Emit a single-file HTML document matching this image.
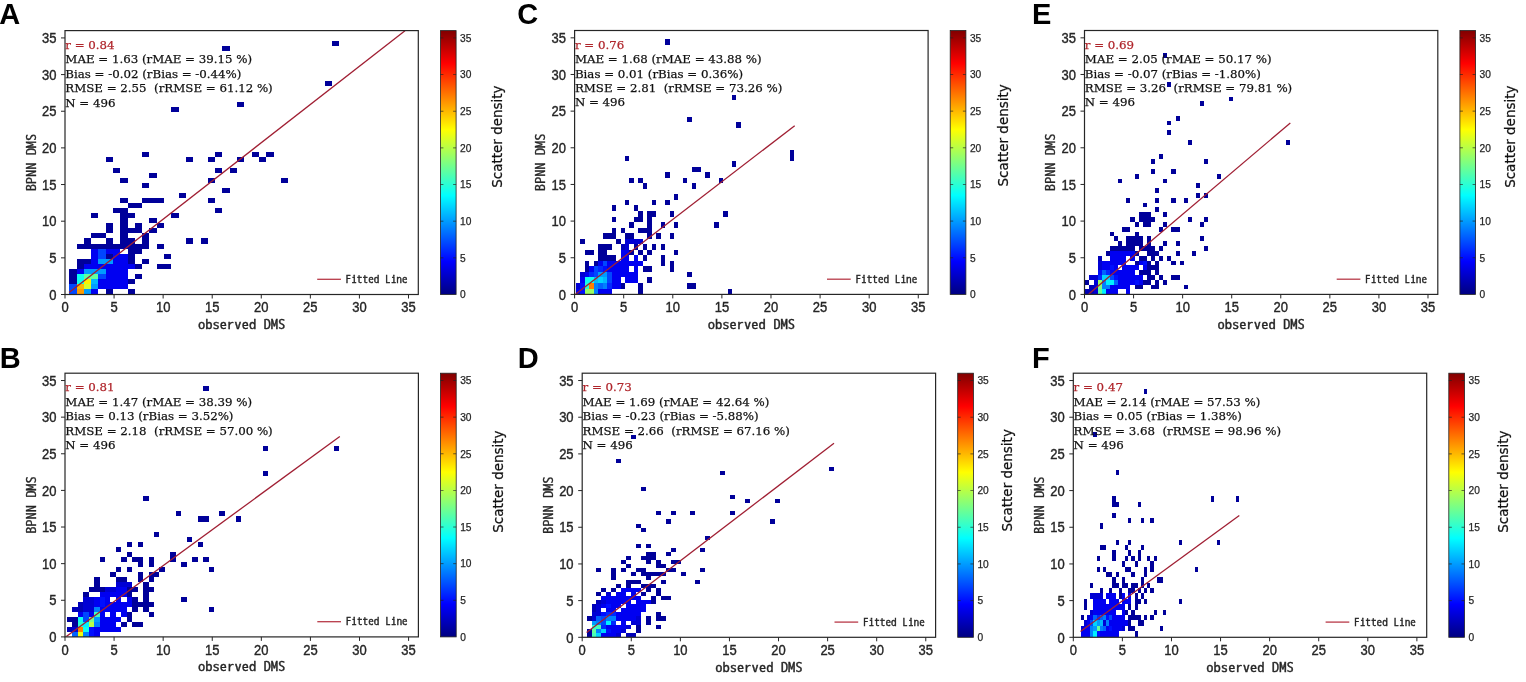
<!DOCTYPE html><html><head><meta charset="utf-8"><title>Scatter density plots</title>
<style>html,body{margin:0;padding:0;background:#fff;}svg{display:block;} .tk{stroke:#262626;stroke-width:0.35px;} .st{stroke:currentColor;stroke-width:0.25px;} .lb{stroke:#111;stroke-width:0.25px;} .cb{stroke:#262626;stroke-width:0.25px;} .ax{stroke:#262626;stroke-width:0.35px;}</style></head><body>
<svg width="1526" height="682" viewBox="0 0 1526 682">
<defs><linearGradient id="jet" x1="0" y1="1" x2="0" y2="0">
<stop offset="0" stop-color="#000080"/>
<stop offset="0.125" stop-color="#0000ff"/>
<stop offset="0.375" stop-color="#00ffff"/>
<stop offset="0.625" stop-color="#ffff00"/>
<stop offset="0.875" stop-color="#ff0000"/>
<stop offset="1.0" stop-color="#800000"/>
</linearGradient></defs>
<rect width="1526" height="682" fill="#fff"/>
<clipPath id="clipA"><rect x="65.0" y="30.6" width="353.3" height="263.9"/></clipPath>
<g clip-path="url(#clipA)" shape-rendering="crispEdges">
<rect x="69.20" y="289.13" width="7.30" height="5.07" fill="#0047ff"/>
<rect x="69.20" y="284.07" width="7.30" height="5.07" fill="#0047ff"/>
<rect x="69.20" y="279.00" width="7.30" height="5.07" fill="#00009a"/>
<rect x="69.20" y="273.93" width="7.30" height="5.07" fill="#00009a"/>
<rect x="69.20" y="268.87" width="7.30" height="5.07" fill="#00009a"/>
<rect x="76.50" y="289.13" width="7.30" height="5.07" fill="#ff9c00"/>
<rect x="76.50" y="284.07" width="7.30" height="5.07" fill="#ffb800"/>
<rect x="76.50" y="279.00" width="7.30" height="5.07" fill="#0efff1"/>
<rect x="76.50" y="273.93" width="7.30" height="5.07" fill="#0efff1"/>
<rect x="76.50" y="268.87" width="7.30" height="5.07" fill="#0000f1"/>
<rect x="76.50" y="263.80" width="7.30" height="5.07" fill="#00009a"/>
<rect x="76.50" y="258.73" width="7.30" height="5.07" fill="#00009a"/>
<rect x="76.50" y="243.53" width="7.30" height="5.07" fill="#00009a"/>
<rect x="83.79" y="289.13" width="7.30" height="5.07" fill="#009cff"/>
<rect x="83.79" y="284.07" width="7.30" height="5.07" fill="#d5ff2a"/>
<rect x="83.79" y="279.00" width="7.30" height="5.07" fill="#fff100"/>
<rect x="83.79" y="273.93" width="7.30" height="5.07" fill="#63ff9c"/>
<rect x="83.79" y="268.87" width="7.30" height="5.07" fill="#009cff"/>
<rect x="83.79" y="263.80" width="7.30" height="5.07" fill="#0000f1"/>
<rect x="83.79" y="258.73" width="7.30" height="5.07" fill="#00009a"/>
<rect x="83.79" y="243.53" width="7.30" height="5.07" fill="#00009a"/>
<rect x="83.79" y="238.46" width="7.30" height="5.07" fill="#00009a"/>
<rect x="91.09" y="289.13" width="7.30" height="5.07" fill="#0000f1"/>
<rect x="91.09" y="284.07" width="7.30" height="5.07" fill="#009cff"/>
<rect x="91.09" y="279.00" width="7.30" height="5.07" fill="#00b8ff"/>
<rect x="91.09" y="273.93" width="7.30" height="5.07" fill="#63ff9c"/>
<rect x="91.09" y="268.87" width="7.30" height="5.07" fill="#009cff"/>
<rect x="91.09" y="263.80" width="7.30" height="5.07" fill="#0000f1"/>
<rect x="91.09" y="258.73" width="7.30" height="5.07" fill="#0000f1"/>
<rect x="91.09" y="253.66" width="7.30" height="5.07" fill="#0000f1"/>
<rect x="91.09" y="248.60" width="7.30" height="5.07" fill="#0000f1"/>
<rect x="91.09" y="243.53" width="7.30" height="5.07" fill="#00009a"/>
<rect x="91.09" y="233.40" width="7.30" height="5.07" fill="#00009a"/>
<rect x="91.09" y="213.13" width="7.30" height="5.07" fill="#00009a"/>
<rect x="98.39" y="284.07" width="7.30" height="5.07" fill="#0000f1"/>
<rect x="98.39" y="279.00" width="7.30" height="5.07" fill="#0000f1"/>
<rect x="98.39" y="273.93" width="7.30" height="5.07" fill="#0047ff"/>
<rect x="98.39" y="268.87" width="7.30" height="5.07" fill="#009cff"/>
<rect x="98.39" y="263.80" width="7.30" height="5.07" fill="#0000f1"/>
<rect x="98.39" y="258.73" width="7.30" height="5.07" fill="#009cff"/>
<rect x="98.39" y="253.66" width="7.30" height="5.07" fill="#0047ff"/>
<rect x="98.39" y="248.60" width="7.30" height="5.07" fill="#0047ff"/>
<rect x="98.39" y="243.53" width="7.30" height="5.07" fill="#00009a"/>
<rect x="98.39" y="233.40" width="7.30" height="5.07" fill="#00009a"/>
<rect x="105.69" y="289.13" width="7.30" height="5.07" fill="#00009a"/>
<rect x="105.69" y="284.07" width="7.30" height="5.07" fill="#0000f1"/>
<rect x="105.69" y="279.00" width="7.30" height="5.07" fill="#0000f1"/>
<rect x="105.69" y="273.93" width="7.30" height="5.07" fill="#0000f1"/>
<rect x="105.69" y="268.87" width="7.30" height="5.07" fill="#0000f1"/>
<rect x="105.69" y="263.80" width="7.30" height="5.07" fill="#0000f1"/>
<rect x="105.69" y="258.73" width="7.30" height="5.07" fill="#009cff"/>
<rect x="105.69" y="253.66" width="7.30" height="5.07" fill="#00009a"/>
<rect x="105.69" y="248.60" width="7.30" height="5.07" fill="#0000f1"/>
<rect x="105.69" y="243.53" width="7.30" height="5.07" fill="#00009a"/>
<rect x="105.69" y="238.46" width="7.30" height="5.07" fill="#00009a"/>
<rect x="105.69" y="228.33" width="7.30" height="5.07" fill="#00009a"/>
<rect x="105.69" y="223.26" width="7.30" height="5.07" fill="#00009a"/>
<rect x="105.69" y="157.39" width="7.30" height="5.07" fill="#00009a"/>
<rect x="112.98" y="284.07" width="7.30" height="5.07" fill="#0000f1"/>
<rect x="112.98" y="279.00" width="7.30" height="5.07" fill="#0000f1"/>
<rect x="112.98" y="273.93" width="7.30" height="5.07" fill="#0000f1"/>
<rect x="112.98" y="268.87" width="7.30" height="5.07" fill="#0000f1"/>
<rect x="112.98" y="263.80" width="7.30" height="5.07" fill="#0000f1"/>
<rect x="112.98" y="258.73" width="7.30" height="5.07" fill="#0000f1"/>
<rect x="112.98" y="253.66" width="7.30" height="5.07" fill="#0000f1"/>
<rect x="112.98" y="248.60" width="7.30" height="5.07" fill="#0000f1"/>
<rect x="112.98" y="243.53" width="7.30" height="5.07" fill="#00009a"/>
<rect x="112.98" y="208.06" width="7.30" height="5.07" fill="#00009a"/>
<rect x="112.98" y="167.52" width="7.30" height="5.07" fill="#00009a"/>
<rect x="120.28" y="284.07" width="7.30" height="5.07" fill="#0000f1"/>
<rect x="120.28" y="279.00" width="7.30" height="5.07" fill="#0000f1"/>
<rect x="120.28" y="273.93" width="7.30" height="5.07" fill="#0000f1"/>
<rect x="120.28" y="268.87" width="7.30" height="5.07" fill="#0000f1"/>
<rect x="120.28" y="263.80" width="7.30" height="5.07" fill="#0000f1"/>
<rect x="120.28" y="258.73" width="7.30" height="5.07" fill="#0000f1"/>
<rect x="120.28" y="253.66" width="7.30" height="5.07" fill="#0000f1"/>
<rect x="120.28" y="243.53" width="7.30" height="5.07" fill="#00009a"/>
<rect x="120.28" y="238.46" width="7.30" height="5.07" fill="#00009a"/>
<rect x="120.28" y="233.40" width="7.30" height="5.07" fill="#00009a"/>
<rect x="120.28" y="228.33" width="7.30" height="5.07" fill="#00009a"/>
<rect x="120.28" y="223.26" width="7.30" height="5.07" fill="#00009a"/>
<rect x="120.28" y="218.19" width="7.30" height="5.07" fill="#00009a"/>
<rect x="120.28" y="213.13" width="7.30" height="5.07" fill="#00009a"/>
<rect x="120.28" y="208.06" width="7.30" height="5.07" fill="#00009a"/>
<rect x="120.28" y="197.93" width="7.30" height="5.07" fill="#00009a"/>
<rect x="120.28" y="177.66" width="7.30" height="5.07" fill="#00009a"/>
<rect x="127.58" y="289.13" width="7.30" height="5.07" fill="#00009a"/>
<rect x="127.58" y="279.00" width="7.30" height="5.07" fill="#00009a"/>
<rect x="127.58" y="263.80" width="7.30" height="5.07" fill="#0000f1"/>
<rect x="127.58" y="258.73" width="7.30" height="5.07" fill="#00009a"/>
<rect x="127.58" y="253.66" width="7.30" height="5.07" fill="#00009a"/>
<rect x="127.58" y="248.60" width="7.30" height="5.07" fill="#00009a"/>
<rect x="127.58" y="243.53" width="7.30" height="5.07" fill="#00009a"/>
<rect x="127.58" y="238.46" width="7.30" height="5.07" fill="#00009a"/>
<rect x="127.58" y="228.33" width="7.30" height="5.07" fill="#00009a"/>
<rect x="127.58" y="213.13" width="7.30" height="5.07" fill="#00009a"/>
<rect x="127.58" y="202.99" width="7.30" height="5.07" fill="#00009a"/>
<rect x="134.87" y="273.93" width="7.30" height="5.07" fill="#00009a"/>
<rect x="134.87" y="263.80" width="7.30" height="5.07" fill="#00009a"/>
<rect x="134.87" y="248.60" width="7.30" height="5.07" fill="#00009a"/>
<rect x="134.87" y="243.53" width="7.30" height="5.07" fill="#00009a"/>
<rect x="134.87" y="228.33" width="7.30" height="5.07" fill="#00009a"/>
<rect x="134.87" y="223.26" width="7.30" height="5.07" fill="#00009a"/>
<rect x="134.87" y="202.99" width="7.30" height="5.07" fill="#00009a"/>
<rect x="142.17" y="258.73" width="7.30" height="5.07" fill="#00009a"/>
<rect x="142.17" y="243.53" width="7.30" height="5.07" fill="#00009a"/>
<rect x="142.17" y="238.46" width="7.30" height="5.07" fill="#00009a"/>
<rect x="142.17" y="233.40" width="7.30" height="5.07" fill="#00009a"/>
<rect x="142.17" y="197.93" width="7.30" height="5.07" fill="#00009a"/>
<rect x="142.17" y="182.73" width="7.30" height="5.07" fill="#00009a"/>
<rect x="142.17" y="152.32" width="7.30" height="5.07" fill="#00009a"/>
<rect x="149.47" y="228.33" width="7.30" height="5.07" fill="#00009a"/>
<rect x="149.47" y="218.19" width="7.30" height="5.07" fill="#00009a"/>
<rect x="149.47" y="197.93" width="7.30" height="5.07" fill="#00009a"/>
<rect x="149.47" y="172.59" width="7.30" height="5.07" fill="#00009a"/>
<rect x="156.76" y="263.80" width="7.30" height="5.07" fill="#00009a"/>
<rect x="156.76" y="243.53" width="7.30" height="5.07" fill="#00009a"/>
<rect x="156.76" y="223.26" width="7.30" height="5.07" fill="#00009a"/>
<rect x="156.76" y="197.93" width="7.30" height="5.07" fill="#00009a"/>
<rect x="164.06" y="263.80" width="7.30" height="5.07" fill="#00009a"/>
<rect x="164.06" y="253.66" width="7.30" height="5.07" fill="#00009a"/>
<rect x="171.36" y="213.13" width="7.30" height="5.07" fill="#00009a"/>
<rect x="171.36" y="106.72" width="7.30" height="5.07" fill="#00009a"/>
<rect x="178.66" y="192.86" width="7.30" height="5.07" fill="#00009a"/>
<rect x="185.95" y="238.46" width="7.30" height="5.07" fill="#00009a"/>
<rect x="185.95" y="157.39" width="7.30" height="5.07" fill="#00009a"/>
<rect x="200.55" y="238.46" width="7.30" height="5.07" fill="#00009a"/>
<rect x="207.84" y="197.93" width="7.30" height="5.07" fill="#00009a"/>
<rect x="207.84" y="177.66" width="7.30" height="5.07" fill="#00009a"/>
<rect x="207.84" y="157.39" width="7.30" height="5.07" fill="#00009a"/>
<rect x="215.14" y="208.06" width="7.30" height="5.07" fill="#00009a"/>
<rect x="215.14" y="167.52" width="7.30" height="5.07" fill="#00009a"/>
<rect x="215.14" y="152.32" width="7.30" height="5.07" fill="#00009a"/>
<rect x="222.44" y="187.79" width="7.30" height="5.07" fill="#00009a"/>
<rect x="222.44" y="45.92" width="7.30" height="5.07" fill="#00009a"/>
<rect x="229.73" y="167.52" width="7.30" height="5.07" fill="#00009a"/>
<rect x="237.03" y="157.39" width="7.30" height="5.07" fill="#00009a"/>
<rect x="237.03" y="101.65" width="7.30" height="5.07" fill="#00009a"/>
<rect x="251.62" y="152.32" width="7.30" height="5.07" fill="#00009a"/>
<rect x="258.92" y="157.39" width="7.30" height="5.07" fill="#00009a"/>
<rect x="266.22" y="152.32" width="7.30" height="5.07" fill="#00009a"/>
<rect x="280.81" y="177.66" width="7.30" height="5.07" fill="#00009a"/>
<rect x="324.59" y="81.39" width="7.30" height="5.07" fill="#00009a"/>
<rect x="331.89" y="40.85" width="7.30" height="5.07" fill="#00009a"/>
</g>
<line x1="69.06" y1="292.5" x2="405.0" y2="30.7" stroke="#a01f33" stroke-width="1.3" clip-path="url(#clipA)"/>
<rect x="65.0" y="30.6" width="353.3" height="263.9" fill="none" stroke="#262626" stroke-width="1.2"/>
<line x1="65.00" y1="294.5" x2="65.00" y2="298.5" stroke="#262626" stroke-width="1"/>
<line x1="61.0" y1="294.50" x2="65.0" y2="294.50" stroke="#262626" stroke-width="1"/>
<text transform="translate(65.00,312.10) scale(1,1.12)" class="tk" text-anchor="middle" style="font-family:'Liberation Sans',Arial,sans-serif;font-size:13px" fill="#262626">0</text>
<text transform="translate(56.40,299.70) scale(1,1.12)" class="tk" text-anchor="end" style="font-family:'Liberation Sans',Arial,sans-serif;font-size:13px" fill="#262626">0</text>
<line x1="114.07" y1="294.5" x2="114.07" y2="298.5" stroke="#262626" stroke-width="1"/>
<line x1="61.0" y1="257.85" x2="65.0" y2="257.85" stroke="#262626" stroke-width="1"/>
<text transform="translate(114.07,312.10) scale(1,1.12)" class="tk" text-anchor="middle" style="font-family:'Liberation Sans',Arial,sans-serif;font-size:13px" fill="#262626">5</text>
<text transform="translate(56.40,263.05) scale(1,1.12)" class="tk" text-anchor="end" style="font-family:'Liberation Sans',Arial,sans-serif;font-size:13px" fill="#262626">5</text>
<line x1="163.14" y1="294.5" x2="163.14" y2="298.5" stroke="#262626" stroke-width="1"/>
<line x1="61.0" y1="221.19" x2="65.0" y2="221.19" stroke="#262626" stroke-width="1"/>
<text transform="translate(163.14,312.10) scale(1,1.12)" class="tk" text-anchor="middle" style="font-family:'Liberation Sans',Arial,sans-serif;font-size:13px" fill="#262626">10</text>
<text transform="translate(56.40,226.39) scale(1,1.12)" class="tk" text-anchor="end" style="font-family:'Liberation Sans',Arial,sans-serif;font-size:13px" fill="#262626">10</text>
<line x1="212.21" y1="294.5" x2="212.21" y2="298.5" stroke="#262626" stroke-width="1"/>
<line x1="61.0" y1="184.54" x2="65.0" y2="184.54" stroke="#262626" stroke-width="1"/>
<text transform="translate(212.21,312.10) scale(1,1.12)" class="tk" text-anchor="middle" style="font-family:'Liberation Sans',Arial,sans-serif;font-size:13px" fill="#262626">15</text>
<text transform="translate(56.40,189.74) scale(1,1.12)" class="tk" text-anchor="end" style="font-family:'Liberation Sans',Arial,sans-serif;font-size:13px" fill="#262626">15</text>
<line x1="261.28" y1="294.5" x2="261.28" y2="298.5" stroke="#262626" stroke-width="1"/>
<line x1="61.0" y1="147.89" x2="65.0" y2="147.89" stroke="#262626" stroke-width="1"/>
<text transform="translate(261.28,312.10) scale(1,1.12)" class="tk" text-anchor="middle" style="font-family:'Liberation Sans',Arial,sans-serif;font-size:13px" fill="#262626">20</text>
<text transform="translate(56.40,153.09) scale(1,1.12)" class="tk" text-anchor="end" style="font-family:'Liberation Sans',Arial,sans-serif;font-size:13px" fill="#262626">20</text>
<line x1="310.35" y1="294.5" x2="310.35" y2="298.5" stroke="#262626" stroke-width="1"/>
<line x1="61.0" y1="111.24" x2="65.0" y2="111.24" stroke="#262626" stroke-width="1"/>
<text transform="translate(310.35,312.10) scale(1,1.12)" class="tk" text-anchor="middle" style="font-family:'Liberation Sans',Arial,sans-serif;font-size:13px" fill="#262626">25</text>
<text transform="translate(56.40,116.44) scale(1,1.12)" class="tk" text-anchor="end" style="font-family:'Liberation Sans',Arial,sans-serif;font-size:13px" fill="#262626">25</text>
<line x1="359.42" y1="294.5" x2="359.42" y2="298.5" stroke="#262626" stroke-width="1"/>
<line x1="61.0" y1="74.58" x2="65.0" y2="74.58" stroke="#262626" stroke-width="1"/>
<text transform="translate(359.42,312.10) scale(1,1.12)" class="tk" text-anchor="middle" style="font-family:'Liberation Sans',Arial,sans-serif;font-size:13px" fill="#262626">30</text>
<text transform="translate(56.40,79.78) scale(1,1.12)" class="tk" text-anchor="end" style="font-family:'Liberation Sans',Arial,sans-serif;font-size:13px" fill="#262626">30</text>
<line x1="408.49" y1="294.5" x2="408.49" y2="298.5" stroke="#262626" stroke-width="1"/>
<line x1="61.0" y1="37.93" x2="65.0" y2="37.93" stroke="#262626" stroke-width="1"/>
<text transform="translate(408.49,312.10) scale(1,1.12)" class="tk" text-anchor="middle" style="font-family:'Liberation Sans',Arial,sans-serif;font-size:13px" fill="#262626">35</text>
<text transform="translate(56.40,43.13) scale(1,1.12)" class="tk" text-anchor="end" style="font-family:'Liberation Sans',Arial,sans-serif;font-size:13px" fill="#262626">35</text>
<text x="241.65" y="328.80" class="ax" text-anchor="middle" style="font-family:'WenQuanYi Zen Hei Mono','WenQuanYi Zen Hei','DejaVu Sans Mono',monospace;font-size:12px" fill="#262626" textLength="87.4" lengthAdjust="spacingAndGlyphs">observed DMS</text>
<text transform="translate(35.80,162.55) rotate(-90)" x="0" y="0" class="ax" text-anchor="middle" style="font-family:'WenQuanYi Zen Hei Mono','WenQuanYi Zen Hei','DejaVu Sans Mono',monospace;font-size:12px" fill="#262626" textLength="57.6" lengthAdjust="spacingAndGlyphs">BPNN DMS</text>
<line x1="317.20" y1="279.30" x2="340.90" y2="279.30" stroke="#b83a48" stroke-width="1.3"/>
<text x="345.60" y="282.90" class="ax" style="font-family:'WenQuanYi Zen Hei Mono','WenQuanYi Zen Hei','DejaVu Sans Mono',monospace;font-size:10.6px" fill="#262626" textLength="62" lengthAdjust="spacingAndGlyphs">Fitted Line</text>
<text transform="translate(65.30,48.70) scale(1,1.0)" class="st" style="color:#b0262c;font-family:'DejaVu Serif',serif;font-size:11.8px;white-space:pre" xml:space="preserve" fill="#b0262c">r = 0.84</text>
<text transform="translate(65.30,63.15) scale(1,1.0)" class="st" style="color:#111;font-family:'DejaVu Serif',serif;font-size:11.8px;white-space:pre" xml:space="preserve" fill="#111">MAE = 1.63 (rMAE = 39.15 %)</text>
<text transform="translate(65.30,77.60) scale(1,1.0)" class="st" style="color:#111;font-family:'DejaVu Serif',serif;font-size:11.8px;white-space:pre" xml:space="preserve" fill="#111">Bias = -0.02 (rBias = -0.44%)</text>
<text transform="translate(65.30,92.05) scale(1,1.0)" class="st" style="color:#111;font-family:'DejaVu Serif',serif;font-size:11.8px;white-space:pre" xml:space="preserve" fill="#111">RMSE = 2.55  (rRMSE = 61.12 %)</text>
<text transform="translate(65.30,106.50) scale(1,1.0)" class="st" style="color:#111;font-family:'DejaVu Serif',serif;font-size:11.8px;white-space:pre" xml:space="preserve" fill="#111">N = 496</text>
<rect x="440.40" y="30.6" width="15.7" height="263.9" fill="url(#jet)" stroke="#222" stroke-width="0.8"/>
<text x="460.10" y="298.30" class="cb" style="font-family:'Liberation Sans',Arial,sans-serif;font-size:10.2px" fill="#262626">0</text>
<line x1="440.40" y1="257.85" x2="443.40" y2="257.85" stroke="#222" stroke-width="0.8" opacity="0.85"/>
<line x1="453.10" y1="257.85" x2="456.10" y2="257.85" stroke="#222" stroke-width="0.8" opacity="0.85"/>
<text x="460.10" y="261.65" class="cb" style="font-family:'Liberation Sans',Arial,sans-serif;font-size:10.2px" fill="#262626">5</text>
<line x1="440.40" y1="221.19" x2="443.40" y2="221.19" stroke="#222" stroke-width="0.8" opacity="0.85"/>
<line x1="453.10" y1="221.19" x2="456.10" y2="221.19" stroke="#222" stroke-width="0.8" opacity="0.85"/>
<text x="460.10" y="224.99" class="cb" style="font-family:'Liberation Sans',Arial,sans-serif;font-size:10.2px" fill="#262626">10</text>
<line x1="440.40" y1="184.54" x2="443.40" y2="184.54" stroke="#222" stroke-width="0.8" opacity="0.85"/>
<line x1="453.10" y1="184.54" x2="456.10" y2="184.54" stroke="#222" stroke-width="0.8" opacity="0.85"/>
<text x="460.10" y="188.34" class="cb" style="font-family:'Liberation Sans',Arial,sans-serif;font-size:10.2px" fill="#262626">15</text>
<line x1="440.40" y1="147.89" x2="443.40" y2="147.89" stroke="#222" stroke-width="0.8" opacity="0.85"/>
<line x1="453.10" y1="147.89" x2="456.10" y2="147.89" stroke="#222" stroke-width="0.8" opacity="0.85"/>
<text x="460.10" y="151.69" class="cb" style="font-family:'Liberation Sans',Arial,sans-serif;font-size:10.2px" fill="#262626">20</text>
<line x1="440.40" y1="111.24" x2="443.40" y2="111.24" stroke="#222" stroke-width="0.8" opacity="0.85"/>
<line x1="453.10" y1="111.24" x2="456.10" y2="111.24" stroke="#222" stroke-width="0.8" opacity="0.85"/>
<text x="460.10" y="115.04" class="cb" style="font-family:'Liberation Sans',Arial,sans-serif;font-size:10.2px" fill="#262626">25</text>
<line x1="440.40" y1="74.58" x2="443.40" y2="74.58" stroke="#222" stroke-width="0.8" opacity="0.85"/>
<line x1="453.10" y1="74.58" x2="456.10" y2="74.58" stroke="#222" stroke-width="0.8" opacity="0.85"/>
<text x="460.10" y="78.38" class="cb" style="font-family:'Liberation Sans',Arial,sans-serif;font-size:10.2px" fill="#262626">30</text>
<line x1="440.40" y1="37.93" x2="443.40" y2="37.93" stroke="#222" stroke-width="0.8" opacity="0.85"/>
<line x1="453.10" y1="37.93" x2="456.10" y2="37.93" stroke="#222" stroke-width="0.8" opacity="0.85"/>
<text x="460.10" y="41.73" class="cb" style="font-family:'Liberation Sans',Arial,sans-serif;font-size:10.2px" fill="#262626">35</text>
<text transform="translate(501.70,136.60) rotate(-90)" x="0" y="0" class="lb" text-anchor="middle" style="font-family:'DejaVu Sans',sans-serif;font-size:13.5px" fill="#111" textLength="102.3" lengthAdjust="spacingAndGlyphs">Scatter density</text>
<text x="-0.8" y="24" style="font-family:'Liberation Sans',Arial,sans-serif;font-weight:bold;font-size:29px" fill="#000">A</text>
<clipPath id="clipB"><rect x="65.0" y="373.2" width="353.4" height="263.7"/></clipPath>
<g clip-path="url(#clipB)" shape-rendering="crispEdges">
<rect x="66.80" y="626.87" width="5.45" height="5.02" fill="#0000b8"/>
<rect x="66.80" y="616.83" width="5.45" height="5.02" fill="#00009a"/>
<rect x="72.25" y="631.88" width="5.45" height="5.02" fill="#0063ff"/>
<rect x="72.25" y="626.87" width="5.45" height="5.02" fill="#0000d4"/>
<rect x="72.25" y="621.85" width="5.45" height="5.02" fill="#00009a"/>
<rect x="72.25" y="616.83" width="5.45" height="5.02" fill="#00009a"/>
<rect x="72.25" y="606.80" width="5.45" height="5.02" fill="#0000b8"/>
<rect x="77.70" y="631.88" width="5.45" height="5.02" fill="#f1ff0e"/>
<rect x="77.70" y="626.87" width="5.45" height="5.02" fill="#ff8000"/>
<rect x="77.70" y="621.85" width="5.45" height="5.02" fill="#2bffd4"/>
<rect x="77.70" y="616.83" width="5.45" height="5.02" fill="#0efff1"/>
<rect x="77.70" y="611.81" width="5.45" height="5.02" fill="#0000f1"/>
<rect x="77.70" y="606.80" width="5.45" height="5.02" fill="#0000b8"/>
<rect x="77.70" y="601.78" width="5.45" height="5.02" fill="#0000b8"/>
<rect x="83.15" y="631.88" width="5.45" height="5.02" fill="#0080ff"/>
<rect x="83.15" y="626.87" width="5.45" height="5.02" fill="#0efff1"/>
<rect x="83.15" y="621.85" width="5.45" height="5.02" fill="#00f1ff"/>
<rect x="83.15" y="616.83" width="5.45" height="5.02" fill="#0047ff"/>
<rect x="83.15" y="611.81" width="5.45" height="5.02" fill="#0047ff"/>
<rect x="83.15" y="606.80" width="5.45" height="5.02" fill="#0000d4"/>
<rect x="83.15" y="601.78" width="5.45" height="5.02" fill="#0000d4"/>
<rect x="83.15" y="596.76" width="5.45" height="5.02" fill="#0000d4"/>
<rect x="83.15" y="591.75" width="5.45" height="5.02" fill="#00009a"/>
<rect x="88.60" y="631.88" width="5.45" height="5.02" fill="#000eff"/>
<rect x="88.60" y="626.87" width="5.45" height="5.02" fill="#000eff"/>
<rect x="88.60" y="621.85" width="5.45" height="5.02" fill="#b8ff47"/>
<rect x="88.60" y="616.83" width="5.45" height="5.02" fill="#80ff80"/>
<rect x="88.60" y="611.81" width="5.45" height="5.02" fill="#0000f1"/>
<rect x="88.60" y="606.80" width="5.45" height="5.02" fill="#0000d4"/>
<rect x="88.60" y="601.78" width="5.45" height="5.02" fill="#0000d4"/>
<rect x="88.60" y="596.76" width="5.45" height="5.02" fill="#0000d4"/>
<rect x="88.60" y="586.73" width="5.45" height="5.02" fill="#00009a"/>
<rect x="94.05" y="631.88" width="5.45" height="5.02" fill="#0000f1"/>
<rect x="94.05" y="626.87" width="5.45" height="5.02" fill="#0000f1"/>
<rect x="94.05" y="621.85" width="5.45" height="5.02" fill="#0080ff"/>
<rect x="94.05" y="616.83" width="5.45" height="5.02" fill="#009cff"/>
<rect x="94.05" y="611.81" width="5.45" height="5.02" fill="#47ffb8"/>
<rect x="94.05" y="606.80" width="5.45" height="5.02" fill="#0080ff"/>
<rect x="94.05" y="601.78" width="5.45" height="5.02" fill="#0000f1"/>
<rect x="94.05" y="596.76" width="5.45" height="5.02" fill="#0000f1"/>
<rect x="94.05" y="586.73" width="5.45" height="5.02" fill="#00009a"/>
<rect x="94.05" y="581.71" width="5.45" height="5.02" fill="#00009a"/>
<rect x="94.05" y="576.70" width="5.45" height="5.02" fill="#00009a"/>
<rect x="99.50" y="626.87" width="5.45" height="5.02" fill="#0000f1"/>
<rect x="99.50" y="621.85" width="5.45" height="5.02" fill="#0000f1"/>
<rect x="99.50" y="616.83" width="5.45" height="5.02" fill="#0000f1"/>
<rect x="99.50" y="611.81" width="5.45" height="5.02" fill="#0000f1"/>
<rect x="99.50" y="606.80" width="5.45" height="5.02" fill="#0000f1"/>
<rect x="99.50" y="601.78" width="5.45" height="5.02" fill="#000eff"/>
<rect x="99.50" y="596.76" width="5.45" height="5.02" fill="#000eff"/>
<rect x="99.50" y="591.75" width="5.45" height="5.02" fill="#0000f1"/>
<rect x="99.50" y="586.73" width="5.45" height="5.02" fill="#00009a"/>
<rect x="99.50" y="556.63" width="5.45" height="5.02" fill="#00009a"/>
<rect x="104.95" y="626.87" width="5.45" height="5.02" fill="#0000f1"/>
<rect x="104.95" y="621.85" width="5.45" height="5.02" fill="#0000f1"/>
<rect x="104.95" y="616.83" width="5.45" height="5.02" fill="#0000f1"/>
<rect x="104.95" y="606.80" width="5.45" height="5.02" fill="#0000f1"/>
<rect x="104.95" y="601.78" width="5.45" height="5.02" fill="#0000f1"/>
<rect x="104.95" y="596.76" width="5.45" height="5.02" fill="#0000f1"/>
<rect x="104.95" y="591.75" width="5.45" height="5.02" fill="#0000f1"/>
<rect x="104.95" y="586.73" width="5.45" height="5.02" fill="#0000d4"/>
<rect x="110.40" y="626.87" width="5.45" height="5.02" fill="#0000f1"/>
<rect x="110.40" y="621.85" width="5.45" height="5.02" fill="#0000f1"/>
<rect x="110.40" y="616.83" width="5.45" height="5.02" fill="#0000f1"/>
<rect x="110.40" y="611.81" width="5.45" height="5.02" fill="#0000f1"/>
<rect x="110.40" y="606.80" width="5.45" height="5.02" fill="#0000f1"/>
<rect x="110.40" y="601.78" width="5.45" height="5.02" fill="#0000f1"/>
<rect x="110.40" y="591.75" width="5.45" height="5.02" fill="#0000f1"/>
<rect x="110.40" y="586.73" width="5.45" height="5.02" fill="#0000d4"/>
<rect x="110.40" y="571.68" width="5.45" height="5.02" fill="#00009a"/>
<rect x="115.85" y="626.87" width="5.45" height="5.02" fill="#0000f1"/>
<rect x="115.85" y="616.83" width="5.45" height="5.02" fill="#0000f1"/>
<rect x="115.85" y="606.80" width="5.45" height="5.02" fill="#0000f1"/>
<rect x="115.85" y="601.78" width="5.45" height="5.02" fill="#0000f1"/>
<rect x="115.85" y="596.76" width="5.45" height="5.02" fill="#0000f1"/>
<rect x="115.85" y="591.75" width="5.45" height="5.02" fill="#0000f1"/>
<rect x="115.85" y="586.73" width="5.45" height="5.02" fill="#0000f1"/>
<rect x="115.85" y="581.71" width="5.45" height="5.02" fill="#0000d4"/>
<rect x="115.85" y="576.70" width="5.45" height="5.02" fill="#00009a"/>
<rect x="115.85" y="566.66" width="5.45" height="5.02" fill="#00009a"/>
<rect x="115.85" y="546.59" width="5.45" height="5.02" fill="#00009a"/>
<rect x="121.30" y="621.85" width="5.45" height="5.02" fill="#00009a"/>
<rect x="121.30" y="611.81" width="5.45" height="5.02" fill="#0000f1"/>
<rect x="121.30" y="606.80" width="5.45" height="5.02" fill="#0000f1"/>
<rect x="121.30" y="601.78" width="5.45" height="5.02" fill="#0000f1"/>
<rect x="121.30" y="591.75" width="5.45" height="5.02" fill="#0000f1"/>
<rect x="121.30" y="586.73" width="5.45" height="5.02" fill="#0000f1"/>
<rect x="121.30" y="581.71" width="5.45" height="5.02" fill="#0000d4"/>
<rect x="121.30" y="576.70" width="5.45" height="5.02" fill="#00009a"/>
<rect x="121.30" y="556.63" width="5.45" height="5.02" fill="#00009a"/>
<rect x="126.75" y="616.83" width="5.45" height="5.02" fill="#00009a"/>
<rect x="126.75" y="611.81" width="5.45" height="5.02" fill="#00009a"/>
<rect x="126.75" y="601.78" width="5.45" height="5.02" fill="#0000f1"/>
<rect x="126.75" y="596.76" width="5.45" height="5.02" fill="#0000f1"/>
<rect x="126.75" y="591.75" width="5.45" height="5.02" fill="#00009a"/>
<rect x="126.75" y="586.73" width="5.45" height="5.02" fill="#00009a"/>
<rect x="126.75" y="581.71" width="5.45" height="5.02" fill="#0000d4"/>
<rect x="126.75" y="566.66" width="5.45" height="5.02" fill="#00009a"/>
<rect x="126.75" y="551.61" width="5.45" height="5.02" fill="#00009a"/>
<rect x="126.75" y="541.58" width="5.45" height="5.02" fill="#00009a"/>
<rect x="132.20" y="621.85" width="5.45" height="5.02" fill="#00009a"/>
<rect x="132.20" y="606.80" width="5.45" height="5.02" fill="#00009a"/>
<rect x="132.20" y="601.78" width="5.45" height="5.02" fill="#00009a"/>
<rect x="132.20" y="596.76" width="5.45" height="5.02" fill="#00009a"/>
<rect x="132.20" y="586.73" width="5.45" height="5.02" fill="#00009a"/>
<rect x="132.20" y="556.63" width="5.45" height="5.02" fill="#00009a"/>
<rect x="137.65" y="621.85" width="5.45" height="5.02" fill="#00009a"/>
<rect x="137.65" y="601.78" width="5.45" height="5.02" fill="#00009a"/>
<rect x="137.65" y="576.70" width="5.45" height="5.02" fill="#00009a"/>
<rect x="137.65" y="571.68" width="5.45" height="5.02" fill="#00009a"/>
<rect x="137.65" y="561.64" width="5.45" height="5.02" fill="#00009a"/>
<rect x="137.65" y="556.63" width="5.45" height="5.02" fill="#00009a"/>
<rect x="137.65" y="541.58" width="5.45" height="5.02" fill="#00009a"/>
<rect x="143.10" y="606.80" width="5.45" height="5.02" fill="#00009a"/>
<rect x="143.10" y="601.78" width="5.45" height="5.02" fill="#00009a"/>
<rect x="143.10" y="596.76" width="5.45" height="5.02" fill="#00009a"/>
<rect x="143.10" y="591.75" width="5.45" height="5.02" fill="#00009a"/>
<rect x="143.10" y="586.73" width="5.45" height="5.02" fill="#00009a"/>
<rect x="143.10" y="581.71" width="5.45" height="5.02" fill="#00009a"/>
<rect x="143.10" y="496.42" width="5.45" height="5.02" fill="#00009a"/>
<rect x="148.55" y="611.81" width="5.45" height="5.02" fill="#00009a"/>
<rect x="148.55" y="601.78" width="5.45" height="5.02" fill="#00009a"/>
<rect x="148.55" y="586.73" width="5.45" height="5.02" fill="#00009a"/>
<rect x="148.55" y="576.70" width="5.45" height="5.02" fill="#00009a"/>
<rect x="148.55" y="571.68" width="5.45" height="5.02" fill="#00009a"/>
<rect x="148.55" y="561.64" width="5.45" height="5.02" fill="#00009a"/>
<rect x="148.55" y="556.63" width="5.45" height="5.02" fill="#00009a"/>
<rect x="154.00" y="571.68" width="5.45" height="5.02" fill="#00009a"/>
<rect x="154.00" y="531.54" width="5.45" height="5.02" fill="#00009a"/>
<rect x="159.45" y="566.66" width="5.45" height="5.02" fill="#00009a"/>
<rect x="170.35" y="556.63" width="5.45" height="5.02" fill="#00009a"/>
<rect x="170.35" y="551.61" width="5.45" height="5.02" fill="#00009a"/>
<rect x="175.80" y="511.47" width="5.45" height="5.02" fill="#00009a"/>
<rect x="181.25" y="596.76" width="5.45" height="5.02" fill="#00009a"/>
<rect x="181.25" y="561.64" width="5.45" height="5.02" fill="#00009a"/>
<rect x="186.70" y="536.56" width="5.45" height="5.02" fill="#00009a"/>
<rect x="192.15" y="556.63" width="5.45" height="5.02" fill="#00009a"/>
<rect x="197.60" y="541.58" width="5.45" height="5.02" fill="#00009a"/>
<rect x="197.60" y="516.49" width="5.45" height="5.02" fill="#00009a"/>
<rect x="203.05" y="556.63" width="5.45" height="5.02" fill="#00009a"/>
<rect x="203.05" y="516.49" width="5.45" height="5.02" fill="#00009a"/>
<rect x="203.05" y="386.05" width="5.45" height="5.02" fill="#00009a"/>
<rect x="208.50" y="606.80" width="5.45" height="5.02" fill="#00009a"/>
<rect x="208.50" y="566.66" width="5.45" height="5.02" fill="#00009a"/>
<rect x="219.40" y="511.47" width="5.45" height="5.02" fill="#00009a"/>
<rect x="235.75" y="516.49" width="5.45" height="5.02" fill="#00009a"/>
<rect x="263.00" y="471.34" width="5.45" height="5.02" fill="#00009a"/>
<rect x="263.00" y="446.25" width="5.45" height="5.02" fill="#00009a"/>
<rect x="333.85" y="446.25" width="5.45" height="5.02" fill="#00009a"/>
</g>
<line x1="66.3" y1="636.5" x2="339.8" y2="436.4" stroke="#a01f33" stroke-width="1.3" clip-path="url(#clipB)"/>
<rect x="65.0" y="373.2" width="353.4" height="263.7" fill="none" stroke="#262626" stroke-width="1.2"/>
<line x1="65.00" y1="636.9" x2="65.00" y2="640.9" stroke="#262626" stroke-width="1"/>
<line x1="61.0" y1="636.90" x2="65.0" y2="636.90" stroke="#262626" stroke-width="1"/>
<text transform="translate(65.00,654.50) scale(1,1.12)" class="tk" text-anchor="middle" style="font-family:'Liberation Sans',Arial,sans-serif;font-size:13px" fill="#262626">0</text>
<text transform="translate(56.40,642.10) scale(1,1.12)" class="tk" text-anchor="end" style="font-family:'Liberation Sans',Arial,sans-serif;font-size:13px" fill="#262626">0</text>
<line x1="114.08" y1="636.9" x2="114.08" y2="640.9" stroke="#262626" stroke-width="1"/>
<line x1="61.0" y1="600.27" x2="65.0" y2="600.27" stroke="#262626" stroke-width="1"/>
<text transform="translate(114.08,654.50) scale(1,1.12)" class="tk" text-anchor="middle" style="font-family:'Liberation Sans',Arial,sans-serif;font-size:13px" fill="#262626">5</text>
<text transform="translate(56.40,605.48) scale(1,1.12)" class="tk" text-anchor="end" style="font-family:'Liberation Sans',Arial,sans-serif;font-size:13px" fill="#262626">5</text>
<line x1="163.17" y1="636.9" x2="163.17" y2="640.9" stroke="#262626" stroke-width="1"/>
<line x1="61.0" y1="563.65" x2="65.0" y2="563.65" stroke="#262626" stroke-width="1"/>
<text transform="translate(163.17,654.50) scale(1,1.12)" class="tk" text-anchor="middle" style="font-family:'Liberation Sans',Arial,sans-serif;font-size:13px" fill="#262626">10</text>
<text transform="translate(56.40,568.85) scale(1,1.12)" class="tk" text-anchor="end" style="font-family:'Liberation Sans',Arial,sans-serif;font-size:13px" fill="#262626">10</text>
<line x1="212.25" y1="636.9" x2="212.25" y2="640.9" stroke="#262626" stroke-width="1"/>
<line x1="61.0" y1="527.02" x2="65.0" y2="527.02" stroke="#262626" stroke-width="1"/>
<text transform="translate(212.25,654.50) scale(1,1.12)" class="tk" text-anchor="middle" style="font-family:'Liberation Sans',Arial,sans-serif;font-size:13px" fill="#262626">15</text>
<text transform="translate(56.40,532.23) scale(1,1.12)" class="tk" text-anchor="end" style="font-family:'Liberation Sans',Arial,sans-serif;font-size:13px" fill="#262626">15</text>
<line x1="261.33" y1="636.9" x2="261.33" y2="640.9" stroke="#262626" stroke-width="1"/>
<line x1="61.0" y1="490.40" x2="65.0" y2="490.40" stroke="#262626" stroke-width="1"/>
<text transform="translate(261.33,654.50) scale(1,1.12)" class="tk" text-anchor="middle" style="font-family:'Liberation Sans',Arial,sans-serif;font-size:13px" fill="#262626">20</text>
<text transform="translate(56.40,495.60) scale(1,1.12)" class="tk" text-anchor="end" style="font-family:'Liberation Sans',Arial,sans-serif;font-size:13px" fill="#262626">20</text>
<line x1="310.42" y1="636.9" x2="310.42" y2="640.9" stroke="#262626" stroke-width="1"/>
<line x1="61.0" y1="453.77" x2="65.0" y2="453.77" stroke="#262626" stroke-width="1"/>
<text transform="translate(310.42,654.50) scale(1,1.12)" class="tk" text-anchor="middle" style="font-family:'Liberation Sans',Arial,sans-serif;font-size:13px" fill="#262626">25</text>
<text transform="translate(56.40,458.97) scale(1,1.12)" class="tk" text-anchor="end" style="font-family:'Liberation Sans',Arial,sans-serif;font-size:13px" fill="#262626">25</text>
<line x1="359.50" y1="636.9" x2="359.50" y2="640.9" stroke="#262626" stroke-width="1"/>
<line x1="61.0" y1="417.15" x2="65.0" y2="417.15" stroke="#262626" stroke-width="1"/>
<text transform="translate(359.50,654.50) scale(1,1.12)" class="tk" text-anchor="middle" style="font-family:'Liberation Sans',Arial,sans-serif;font-size:13px" fill="#262626">30</text>
<text transform="translate(56.40,422.35) scale(1,1.12)" class="tk" text-anchor="end" style="font-family:'Liberation Sans',Arial,sans-serif;font-size:13px" fill="#262626">30</text>
<line x1="408.58" y1="636.9" x2="408.58" y2="640.9" stroke="#262626" stroke-width="1"/>
<line x1="61.0" y1="380.52" x2="65.0" y2="380.52" stroke="#262626" stroke-width="1"/>
<text transform="translate(408.58,654.50) scale(1,1.12)" class="tk" text-anchor="middle" style="font-family:'Liberation Sans',Arial,sans-serif;font-size:13px" fill="#262626">35</text>
<text transform="translate(56.40,385.72) scale(1,1.12)" class="tk" text-anchor="end" style="font-family:'Liberation Sans',Arial,sans-serif;font-size:13px" fill="#262626">35</text>
<text x="241.70" y="671.20" class="ax" text-anchor="middle" style="font-family:'WenQuanYi Zen Hei Mono','WenQuanYi Zen Hei','DejaVu Sans Mono',monospace;font-size:12px" fill="#262626" textLength="87.4" lengthAdjust="spacingAndGlyphs">observed DMS</text>
<text transform="translate(35.80,505.05) rotate(-90)" x="0" y="0" class="ax" text-anchor="middle" style="font-family:'WenQuanYi Zen Hei Mono','WenQuanYi Zen Hei','DejaVu Sans Mono',monospace;font-size:12px" fill="#262626" textLength="57.6" lengthAdjust="spacingAndGlyphs">BPNN DMS</text>
<line x1="317.30" y1="621.70" x2="341.00" y2="621.70" stroke="#b83a48" stroke-width="1.3"/>
<text x="345.70" y="625.30" class="ax" style="font-family:'WenQuanYi Zen Hei Mono','WenQuanYi Zen Hei','DejaVu Sans Mono',monospace;font-size:10.6px" fill="#262626" textLength="62" lengthAdjust="spacingAndGlyphs">Fitted Line</text>
<text transform="translate(65.30,391.30) scale(1,1.0)" class="st" style="color:#b0262c;font-family:'DejaVu Serif',serif;font-size:11.8px;white-space:pre" xml:space="preserve" fill="#b0262c">r = 0.81</text>
<text transform="translate(65.30,405.75) scale(1,1.0)" class="st" style="color:#111;font-family:'DejaVu Serif',serif;font-size:11.8px;white-space:pre" xml:space="preserve" fill="#111">MAE = 1.47 (rMAE = 38.39 %)</text>
<text transform="translate(65.30,420.20) scale(1,1.0)" class="st" style="color:#111;font-family:'DejaVu Serif',serif;font-size:11.8px;white-space:pre" xml:space="preserve" fill="#111">Bias = 0.13 (rBias = 3.52%)</text>
<text transform="translate(65.30,434.65) scale(1,1.0)" class="st" style="color:#111;font-family:'DejaVu Serif',serif;font-size:11.8px;white-space:pre" xml:space="preserve" fill="#111">RMSE = 2.18  (rRMSE = 57.00 %)</text>
<text transform="translate(65.30,449.10) scale(1,1.0)" class="st" style="color:#111;font-family:'DejaVu Serif',serif;font-size:11.8px;white-space:pre" xml:space="preserve" fill="#111">N = 496</text>
<rect x="440.50" y="373.2" width="15.7" height="263.7" fill="url(#jet)" stroke="#222" stroke-width="0.8"/>
<text x="460.20" y="640.70" class="cb" style="font-family:'Liberation Sans',Arial,sans-serif;font-size:10.2px" fill="#262626">0</text>
<line x1="440.50" y1="600.27" x2="443.50" y2="600.27" stroke="#222" stroke-width="0.8" opacity="0.85"/>
<line x1="453.20" y1="600.27" x2="456.20" y2="600.27" stroke="#222" stroke-width="0.8" opacity="0.85"/>
<text x="460.20" y="604.07" class="cb" style="font-family:'Liberation Sans',Arial,sans-serif;font-size:10.2px" fill="#262626">5</text>
<line x1="440.50" y1="563.65" x2="443.50" y2="563.65" stroke="#222" stroke-width="0.8" opacity="0.85"/>
<line x1="453.20" y1="563.65" x2="456.20" y2="563.65" stroke="#222" stroke-width="0.8" opacity="0.85"/>
<text x="460.20" y="567.45" class="cb" style="font-family:'Liberation Sans',Arial,sans-serif;font-size:10.2px" fill="#262626">10</text>
<line x1="440.50" y1="527.02" x2="443.50" y2="527.02" stroke="#222" stroke-width="0.8" opacity="0.85"/>
<line x1="453.20" y1="527.02" x2="456.20" y2="527.02" stroke="#222" stroke-width="0.8" opacity="0.85"/>
<text x="460.20" y="530.82" class="cb" style="font-family:'Liberation Sans',Arial,sans-serif;font-size:10.2px" fill="#262626">15</text>
<line x1="440.50" y1="490.40" x2="443.50" y2="490.40" stroke="#222" stroke-width="0.8" opacity="0.85"/>
<line x1="453.20" y1="490.40" x2="456.20" y2="490.40" stroke="#222" stroke-width="0.8" opacity="0.85"/>
<text x="460.20" y="494.20" class="cb" style="font-family:'Liberation Sans',Arial,sans-serif;font-size:10.2px" fill="#262626">20</text>
<line x1="440.50" y1="453.77" x2="443.50" y2="453.77" stroke="#222" stroke-width="0.8" opacity="0.85"/>
<line x1="453.20" y1="453.77" x2="456.20" y2="453.77" stroke="#222" stroke-width="0.8" opacity="0.85"/>
<text x="460.20" y="457.57" class="cb" style="font-family:'Liberation Sans',Arial,sans-serif;font-size:10.2px" fill="#262626">25</text>
<line x1="440.50" y1="417.15" x2="443.50" y2="417.15" stroke="#222" stroke-width="0.8" opacity="0.85"/>
<line x1="453.20" y1="417.15" x2="456.20" y2="417.15" stroke="#222" stroke-width="0.8" opacity="0.85"/>
<text x="460.20" y="420.95" class="cb" style="font-family:'Liberation Sans',Arial,sans-serif;font-size:10.2px" fill="#262626">30</text>
<line x1="440.50" y1="380.52" x2="443.50" y2="380.52" stroke="#222" stroke-width="0.8" opacity="0.85"/>
<line x1="453.20" y1="380.52" x2="456.20" y2="380.52" stroke="#222" stroke-width="0.8" opacity="0.85"/>
<text x="460.20" y="384.32" class="cb" style="font-family:'Liberation Sans',Arial,sans-serif;font-size:10.2px" fill="#262626">35</text>
<text transform="translate(503.10,481.60) rotate(-90)" x="0" y="0" class="lb" text-anchor="middle" style="font-family:'DejaVu Sans',sans-serif;font-size:13.5px" fill="#111" textLength="102.3" lengthAdjust="spacingAndGlyphs">Scatter density</text>
<text x="-0.2" y="368" style="font-family:'Liberation Sans',Arial,sans-serif;font-weight:bold;font-size:29px" fill="#000">B</text>
<clipPath id="clipC"><rect x="574.6" y="30.5" width="353.5" height="263.9"/></clipPath>
<g clip-path="url(#clipC)" shape-rendering="crispEdges">
<rect x="575.90" y="288.56" width="4.46" height="5.54" fill="#0000f1"/>
<rect x="575.90" y="283.02" width="4.46" height="5.54" fill="#0000d4"/>
<rect x="580.36" y="288.56" width="4.46" height="5.54" fill="#000eff"/>
<rect x="580.36" y="283.02" width="4.46" height="5.54" fill="#000eff"/>
<rect x="580.36" y="277.48" width="4.46" height="5.54" fill="#0000f1"/>
<rect x="580.36" y="271.94" width="4.46" height="5.54" fill="#0000d4"/>
<rect x="580.36" y="238.70" width="4.46" height="5.54" fill="#00009a"/>
<rect x="584.82" y="288.56" width="4.46" height="5.54" fill="#9cff63"/>
<rect x="584.82" y="283.02" width="4.46" height="5.54" fill="#2bffd4"/>
<rect x="584.82" y="277.48" width="4.46" height="5.54" fill="#0efff1"/>
<rect x="584.82" y="271.94" width="4.46" height="5.54" fill="#0000f1"/>
<rect x="584.82" y="266.40" width="4.46" height="5.54" fill="#00009a"/>
<rect x="584.82" y="260.86" width="4.46" height="5.54" fill="#00009a"/>
<rect x="584.82" y="249.78" width="4.46" height="5.54" fill="#00009a"/>
<rect x="589.28" y="288.56" width="4.46" height="5.54" fill="#9cff63"/>
<rect x="589.28" y="283.02" width="4.46" height="5.54" fill="#ff8000"/>
<rect x="589.28" y="277.48" width="4.46" height="5.54" fill="#0efff1"/>
<rect x="589.28" y="271.94" width="4.46" height="5.54" fill="#002aff"/>
<rect x="589.28" y="266.40" width="4.46" height="5.54" fill="#0000f1"/>
<rect x="589.28" y="249.78" width="4.46" height="5.54" fill="#00009a"/>
<rect x="593.74" y="288.56" width="4.46" height="5.54" fill="#0080ff"/>
<rect x="593.74" y="283.02" width="4.46" height="5.54" fill="#0080ff"/>
<rect x="593.74" y="277.48" width="4.46" height="5.54" fill="#00b8ff"/>
<rect x="593.74" y="271.94" width="4.46" height="5.54" fill="#0047ff"/>
<rect x="593.74" y="266.40" width="4.46" height="5.54" fill="#0047ff"/>
<rect x="593.74" y="260.86" width="4.46" height="5.54" fill="#00009a"/>
<rect x="598.20" y="288.56" width="4.46" height="5.54" fill="#0000f1"/>
<rect x="598.20" y="283.02" width="4.46" height="5.54" fill="#0063ff"/>
<rect x="598.20" y="277.48" width="4.46" height="5.54" fill="#00d4ff"/>
<rect x="598.20" y="271.94" width="4.46" height="5.54" fill="#009cff"/>
<rect x="598.20" y="266.40" width="4.46" height="5.54" fill="#002aff"/>
<rect x="598.20" y="260.86" width="4.46" height="5.54" fill="#0000f1"/>
<rect x="598.20" y="255.32" width="4.46" height="5.54" fill="#00009a"/>
<rect x="598.20" y="249.78" width="4.46" height="5.54" fill="#00009a"/>
<rect x="598.20" y="244.24" width="4.46" height="5.54" fill="#00009a"/>
<rect x="602.66" y="288.56" width="4.46" height="5.54" fill="#0000f1"/>
<rect x="602.66" y="283.02" width="4.46" height="5.54" fill="#0080ff"/>
<rect x="602.66" y="277.48" width="4.46" height="5.54" fill="#00b8ff"/>
<rect x="602.66" y="271.94" width="4.46" height="5.54" fill="#009cff"/>
<rect x="602.66" y="266.40" width="4.46" height="5.54" fill="#000eff"/>
<rect x="602.66" y="260.86" width="4.46" height="5.54" fill="#0047ff"/>
<rect x="602.66" y="255.32" width="4.46" height="5.54" fill="#00009a"/>
<rect x="602.66" y="249.78" width="4.46" height="5.54" fill="#00009a"/>
<rect x="602.66" y="244.24" width="4.46" height="5.54" fill="#00009a"/>
<rect x="602.66" y="233.16" width="4.46" height="5.54" fill="#00009a"/>
<rect x="607.12" y="288.56" width="4.46" height="5.54" fill="#0000f1"/>
<rect x="607.12" y="283.02" width="4.46" height="5.54" fill="#002aff"/>
<rect x="607.12" y="277.48" width="4.46" height="5.54" fill="#0047ff"/>
<rect x="607.12" y="271.94" width="4.46" height="5.54" fill="#0047ff"/>
<rect x="607.12" y="266.40" width="4.46" height="5.54" fill="#0000f1"/>
<rect x="607.12" y="260.86" width="4.46" height="5.54" fill="#0000f1"/>
<rect x="607.12" y="255.32" width="4.46" height="5.54" fill="#00009a"/>
<rect x="607.12" y="244.24" width="4.46" height="5.54" fill="#00009a"/>
<rect x="607.12" y="233.16" width="4.46" height="5.54" fill="#00009a"/>
<rect x="611.58" y="283.02" width="4.46" height="5.54" fill="#0000f1"/>
<rect x="611.58" y="277.48" width="4.46" height="5.54" fill="#0000f1"/>
<rect x="611.58" y="271.94" width="4.46" height="5.54" fill="#0000f1"/>
<rect x="611.58" y="266.40" width="4.46" height="5.54" fill="#0000f1"/>
<rect x="611.58" y="260.86" width="4.46" height="5.54" fill="#0000f1"/>
<rect x="611.58" y="255.32" width="4.46" height="5.54" fill="#00009a"/>
<rect x="611.58" y="233.16" width="4.46" height="5.54" fill="#00009a"/>
<rect x="611.58" y="227.62" width="4.46" height="5.54" fill="#00009a"/>
<rect x="611.58" y="216.54" width="4.46" height="5.54" fill="#00009a"/>
<rect x="611.58" y="205.46" width="4.46" height="5.54" fill="#00009a"/>
<rect x="616.04" y="283.02" width="4.46" height="5.54" fill="#0000f1"/>
<rect x="616.04" y="277.48" width="4.46" height="5.54" fill="#0000f1"/>
<rect x="616.04" y="271.94" width="4.46" height="5.54" fill="#0000f1"/>
<rect x="616.04" y="266.40" width="4.46" height="5.54" fill="#0000f1"/>
<rect x="616.04" y="260.86" width="4.46" height="5.54" fill="#0000f1"/>
<rect x="616.04" y="238.70" width="4.46" height="5.54" fill="#00009a"/>
<rect x="620.50" y="283.02" width="4.46" height="5.54" fill="#00009a"/>
<rect x="620.50" y="271.94" width="4.46" height="5.54" fill="#0000f1"/>
<rect x="620.50" y="266.40" width="4.46" height="5.54" fill="#0000f1"/>
<rect x="620.50" y="260.86" width="4.46" height="5.54" fill="#0000f1"/>
<rect x="620.50" y="255.32" width="4.46" height="5.54" fill="#0000f1"/>
<rect x="620.50" y="249.78" width="4.46" height="5.54" fill="#0000f1"/>
<rect x="620.50" y="244.24" width="4.46" height="5.54" fill="#0000b8"/>
<rect x="620.50" y="227.62" width="4.46" height="5.54" fill="#00009a"/>
<rect x="624.96" y="277.48" width="4.46" height="5.54" fill="#0000f1"/>
<rect x="624.96" y="271.94" width="4.46" height="5.54" fill="#0000f1"/>
<rect x="624.96" y="266.40" width="4.46" height="5.54" fill="#0000f1"/>
<rect x="624.96" y="260.86" width="4.46" height="5.54" fill="#0000f1"/>
<rect x="624.96" y="255.32" width="4.46" height="5.54" fill="#0000f1"/>
<rect x="624.96" y="249.78" width="4.46" height="5.54" fill="#0000f1"/>
<rect x="624.96" y="244.24" width="4.46" height="5.54" fill="#0000d4"/>
<rect x="624.96" y="238.70" width="4.46" height="5.54" fill="#0000d4"/>
<rect x="624.96" y="233.16" width="4.46" height="5.54" fill="#00009a"/>
<rect x="624.96" y="199.92" width="4.46" height="5.54" fill="#00009a"/>
<rect x="624.96" y="155.60" width="4.46" height="5.54" fill="#00009a"/>
<rect x="629.42" y="277.48" width="4.46" height="5.54" fill="#0000f1"/>
<rect x="629.42" y="271.94" width="4.46" height="5.54" fill="#0000f1"/>
<rect x="629.42" y="260.86" width="4.46" height="5.54" fill="#0000f1"/>
<rect x="629.42" y="249.78" width="4.46" height="5.54" fill="#00009a"/>
<rect x="629.42" y="238.70" width="4.46" height="5.54" fill="#0000d4"/>
<rect x="629.42" y="233.16" width="4.46" height="5.54" fill="#00009a"/>
<rect x="629.42" y="222.08" width="4.46" height="5.54" fill="#00009a"/>
<rect x="629.42" y="177.76" width="4.46" height="5.54" fill="#00009a"/>
<rect x="633.88" y="277.48" width="4.46" height="5.54" fill="#0000f1"/>
<rect x="633.88" y="271.94" width="4.46" height="5.54" fill="#0000f1"/>
<rect x="633.88" y="266.40" width="4.46" height="5.54" fill="#0000f1"/>
<rect x="633.88" y="260.86" width="4.46" height="5.54" fill="#0000f1"/>
<rect x="633.88" y="255.32" width="4.46" height="5.54" fill="#0000f1"/>
<rect x="633.88" y="244.24" width="4.46" height="5.54" fill="#00009a"/>
<rect x="633.88" y="238.70" width="4.46" height="5.54" fill="#0000d4"/>
<rect x="633.88" y="216.54" width="4.46" height="5.54" fill="#00009a"/>
<rect x="633.88" y="205.46" width="4.46" height="5.54" fill="#00009a"/>
<rect x="638.34" y="288.56" width="4.46" height="5.54" fill="#00009a"/>
<rect x="638.34" y="283.02" width="4.46" height="5.54" fill="#00009a"/>
<rect x="638.34" y="260.86" width="4.46" height="5.54" fill="#0000f1"/>
<rect x="638.34" y="249.78" width="4.46" height="5.54" fill="#00009a"/>
<rect x="638.34" y="238.70" width="4.46" height="5.54" fill="#0000d4"/>
<rect x="638.34" y="227.62" width="4.46" height="5.54" fill="#00009a"/>
<rect x="638.34" y="216.54" width="4.46" height="5.54" fill="#00009a"/>
<rect x="638.34" y="211.00" width="4.46" height="5.54" fill="#00009a"/>
<rect x="638.34" y="177.76" width="4.46" height="5.54" fill="#00009a"/>
<rect x="642.80" y="266.40" width="4.46" height="5.54" fill="#00009a"/>
<rect x="642.80" y="255.32" width="4.46" height="5.54" fill="#00009a"/>
<rect x="642.80" y="244.24" width="4.46" height="5.54" fill="#00009a"/>
<rect x="642.80" y="227.62" width="4.46" height="5.54" fill="#00009a"/>
<rect x="642.80" y="183.30" width="4.46" height="5.54" fill="#00009a"/>
<rect x="647.26" y="277.48" width="4.46" height="5.54" fill="#00009a"/>
<rect x="647.26" y="266.40" width="4.46" height="5.54" fill="#00009a"/>
<rect x="647.26" y="249.78" width="4.46" height="5.54" fill="#00009a"/>
<rect x="647.26" y="233.16" width="4.46" height="5.54" fill="#00009a"/>
<rect x="647.26" y="227.62" width="4.46" height="5.54" fill="#00009a"/>
<rect x="647.26" y="222.08" width="4.46" height="5.54" fill="#00009a"/>
<rect x="647.26" y="216.54" width="4.46" height="5.54" fill="#00009a"/>
<rect x="647.26" y="211.00" width="4.46" height="5.54" fill="#00009a"/>
<rect x="651.72" y="244.24" width="4.46" height="5.54" fill="#00009a"/>
<rect x="651.72" y="211.00" width="4.46" height="5.54" fill="#00009a"/>
<rect x="651.72" y="199.92" width="4.46" height="5.54" fill="#00009a"/>
<rect x="656.18" y="233.16" width="4.46" height="5.54" fill="#00009a"/>
<rect x="660.64" y="260.86" width="4.46" height="5.54" fill="#00009a"/>
<rect x="660.64" y="255.32" width="4.46" height="5.54" fill="#00009a"/>
<rect x="660.64" y="244.24" width="4.46" height="5.54" fill="#00009a"/>
<rect x="660.64" y="222.08" width="4.46" height="5.54" fill="#00009a"/>
<rect x="665.10" y="199.92" width="4.46" height="5.54" fill="#00009a"/>
<rect x="665.10" y="172.22" width="4.46" height="5.54" fill="#00009a"/>
<rect x="665.10" y="39.26" width="4.46" height="5.54" fill="#00009a"/>
<rect x="669.56" y="266.40" width="4.46" height="5.54" fill="#00009a"/>
<rect x="669.56" y="260.86" width="4.46" height="5.54" fill="#00009a"/>
<rect x="669.56" y="233.16" width="4.46" height="5.54" fill="#00009a"/>
<rect x="669.56" y="211.00" width="4.46" height="5.54" fill="#00009a"/>
<rect x="674.02" y="249.78" width="4.46" height="5.54" fill="#00009a"/>
<rect x="674.02" y="222.08" width="4.46" height="5.54" fill="#00009a"/>
<rect x="674.02" y="194.38" width="4.46" height="5.54" fill="#00009a"/>
<rect x="682.94" y="177.76" width="4.46" height="5.54" fill="#00009a"/>
<rect x="687.40" y="283.02" width="4.46" height="5.54" fill="#00009a"/>
<rect x="687.40" y="271.94" width="4.46" height="5.54" fill="#00009a"/>
<rect x="687.40" y="116.82" width="4.46" height="5.54" fill="#00009a"/>
<rect x="691.86" y="283.02" width="4.46" height="5.54" fill="#00009a"/>
<rect x="691.86" y="183.30" width="4.46" height="5.54" fill="#00009a"/>
<rect x="691.86" y="166.68" width="4.46" height="5.54" fill="#00009a"/>
<rect x="696.32" y="166.68" width="4.46" height="5.54" fill="#00009a"/>
<rect x="705.24" y="172.22" width="4.46" height="5.54" fill="#00009a"/>
<rect x="714.16" y="222.08" width="4.46" height="5.54" fill="#00009a"/>
<rect x="718.62" y="177.76" width="4.46" height="5.54" fill="#00009a"/>
<rect x="723.08" y="211.00" width="4.46" height="5.54" fill="#00009a"/>
<rect x="727.54" y="288.56" width="4.46" height="5.54" fill="#00009a"/>
<rect x="732.00" y="161.14" width="4.46" height="5.54" fill="#00009a"/>
<rect x="732.00" y="94.66" width="4.46" height="5.54" fill="#00009a"/>
<rect x="736.46" y="122.36" width="4.46" height="5.54" fill="#00009a"/>
<rect x="789.98" y="155.60" width="4.46" height="5.54" fill="#00009a"/>
<rect x="789.98" y="150.06" width="4.46" height="5.54" fill="#00009a"/>
</g>
<line x1="575.8" y1="294.0" x2="794.7" y2="125.7" stroke="#a01f33" stroke-width="1.3" clip-path="url(#clipC)"/>
<rect x="574.6" y="30.5" width="353.5" height="263.9" fill="none" stroke="#262626" stroke-width="1.2"/>
<line x1="574.60" y1="294.4" x2="574.60" y2="298.4" stroke="#262626" stroke-width="1"/>
<line x1="570.6" y1="294.40" x2="574.6" y2="294.40" stroke="#262626" stroke-width="1"/>
<text transform="translate(574.60,312.00) scale(1,1.12)" class="tk" text-anchor="middle" style="font-family:'Liberation Sans',Arial,sans-serif;font-size:13px" fill="#262626">0</text>
<text transform="translate(566.00,299.60) scale(1,1.12)" class="tk" text-anchor="end" style="font-family:'Liberation Sans',Arial,sans-serif;font-size:13px" fill="#262626">0</text>
<line x1="623.70" y1="294.4" x2="623.70" y2="298.4" stroke="#262626" stroke-width="1"/>
<line x1="570.6" y1="257.75" x2="574.6" y2="257.75" stroke="#262626" stroke-width="1"/>
<text transform="translate(623.70,312.00) scale(1,1.12)" class="tk" text-anchor="middle" style="font-family:'Liberation Sans',Arial,sans-serif;font-size:13px" fill="#262626">5</text>
<text transform="translate(566.00,262.95) scale(1,1.12)" class="tk" text-anchor="end" style="font-family:'Liberation Sans',Arial,sans-serif;font-size:13px" fill="#262626">5</text>
<line x1="672.79" y1="294.4" x2="672.79" y2="298.4" stroke="#262626" stroke-width="1"/>
<line x1="570.6" y1="221.09" x2="574.6" y2="221.09" stroke="#262626" stroke-width="1"/>
<text transform="translate(672.79,312.00) scale(1,1.12)" class="tk" text-anchor="middle" style="font-family:'Liberation Sans',Arial,sans-serif;font-size:13px" fill="#262626">10</text>
<text transform="translate(566.00,226.29) scale(1,1.12)" class="tk" text-anchor="end" style="font-family:'Liberation Sans',Arial,sans-serif;font-size:13px" fill="#262626">10</text>
<line x1="721.89" y1="294.4" x2="721.89" y2="298.4" stroke="#262626" stroke-width="1"/>
<line x1="570.6" y1="184.44" x2="574.6" y2="184.44" stroke="#262626" stroke-width="1"/>
<text transform="translate(721.89,312.00) scale(1,1.12)" class="tk" text-anchor="middle" style="font-family:'Liberation Sans',Arial,sans-serif;font-size:13px" fill="#262626">15</text>
<text transform="translate(566.00,189.64) scale(1,1.12)" class="tk" text-anchor="end" style="font-family:'Liberation Sans',Arial,sans-serif;font-size:13px" fill="#262626">15</text>
<line x1="770.99" y1="294.4" x2="770.99" y2="298.4" stroke="#262626" stroke-width="1"/>
<line x1="570.6" y1="147.79" x2="574.6" y2="147.79" stroke="#262626" stroke-width="1"/>
<text transform="translate(770.99,312.00) scale(1,1.12)" class="tk" text-anchor="middle" style="font-family:'Liberation Sans',Arial,sans-serif;font-size:13px" fill="#262626">20</text>
<text transform="translate(566.00,152.99) scale(1,1.12)" class="tk" text-anchor="end" style="font-family:'Liberation Sans',Arial,sans-serif;font-size:13px" fill="#262626">20</text>
<line x1="820.09" y1="294.4" x2="820.09" y2="298.4" stroke="#262626" stroke-width="1"/>
<line x1="570.6" y1="111.14" x2="574.6" y2="111.14" stroke="#262626" stroke-width="1"/>
<text transform="translate(820.09,312.00) scale(1,1.12)" class="tk" text-anchor="middle" style="font-family:'Liberation Sans',Arial,sans-serif;font-size:13px" fill="#262626">25</text>
<text transform="translate(566.00,116.34) scale(1,1.12)" class="tk" text-anchor="end" style="font-family:'Liberation Sans',Arial,sans-serif;font-size:13px" fill="#262626">25</text>
<line x1="869.18" y1="294.4" x2="869.18" y2="298.4" stroke="#262626" stroke-width="1"/>
<line x1="570.6" y1="74.48" x2="574.6" y2="74.48" stroke="#262626" stroke-width="1"/>
<text transform="translate(869.18,312.00) scale(1,1.12)" class="tk" text-anchor="middle" style="font-family:'Liberation Sans',Arial,sans-serif;font-size:13px" fill="#262626">30</text>
<text transform="translate(566.00,79.68) scale(1,1.12)" class="tk" text-anchor="end" style="font-family:'Liberation Sans',Arial,sans-serif;font-size:13px" fill="#262626">30</text>
<line x1="918.28" y1="294.4" x2="918.28" y2="298.4" stroke="#262626" stroke-width="1"/>
<line x1="570.6" y1="37.83" x2="574.6" y2="37.83" stroke="#262626" stroke-width="1"/>
<text transform="translate(918.28,312.00) scale(1,1.12)" class="tk" text-anchor="middle" style="font-family:'Liberation Sans',Arial,sans-serif;font-size:13px" fill="#262626">35</text>
<text transform="translate(566.00,43.03) scale(1,1.12)" class="tk" text-anchor="end" style="font-family:'Liberation Sans',Arial,sans-serif;font-size:13px" fill="#262626">35</text>
<text x="751.35" y="328.70" class="ax" text-anchor="middle" style="font-family:'WenQuanYi Zen Hei Mono','WenQuanYi Zen Hei','DejaVu Sans Mono',monospace;font-size:12px" fill="#262626" textLength="87.4" lengthAdjust="spacingAndGlyphs">observed DMS</text>
<text transform="translate(545.40,162.45) rotate(-90)" x="0" y="0" class="ax" text-anchor="middle" style="font-family:'WenQuanYi Zen Hei Mono','WenQuanYi Zen Hei','DejaVu Sans Mono',monospace;font-size:12px" fill="#262626" textLength="57.6" lengthAdjust="spacingAndGlyphs">BPNN DMS</text>
<line x1="827.00" y1="279.20" x2="850.70" y2="279.20" stroke="#b83a48" stroke-width="1.3"/>
<text x="855.40" y="282.80" class="ax" style="font-family:'WenQuanYi Zen Hei Mono','WenQuanYi Zen Hei','DejaVu Sans Mono',monospace;font-size:10.6px" fill="#262626" textLength="62" lengthAdjust="spacingAndGlyphs">Fitted Line</text>
<text transform="translate(574.90,48.60) scale(1,1.0)" class="st" style="color:#b0262c;font-family:'DejaVu Serif',serif;font-size:11.8px;white-space:pre" xml:space="preserve" fill="#b0262c">r = 0.76</text>
<text transform="translate(574.90,63.05) scale(1,1.0)" class="st" style="color:#111;font-family:'DejaVu Serif',serif;font-size:11.8px;white-space:pre" xml:space="preserve" fill="#111">MAE = 1.68 (rMAE = 43.88 %)</text>
<text transform="translate(574.90,77.50) scale(1,1.0)" class="st" style="color:#111;font-family:'DejaVu Serif',serif;font-size:11.8px;white-space:pre" xml:space="preserve" fill="#111">Bias = 0.01 (rBias = 0.36%)</text>
<text transform="translate(574.90,91.95) scale(1,1.0)" class="st" style="color:#111;font-family:'DejaVu Serif',serif;font-size:11.8px;white-space:pre" xml:space="preserve" fill="#111">RMSE = 2.81  (rRMSE = 73.26 %)</text>
<text transform="translate(574.90,106.40) scale(1,1.0)" class="st" style="color:#111;font-family:'DejaVu Serif',serif;font-size:11.8px;white-space:pre" xml:space="preserve" fill="#111">N = 496</text>
<rect x="950.20" y="30.5" width="15.7" height="263.9" fill="url(#jet)" stroke="#222" stroke-width="0.8"/>
<text x="969.90" y="298.20" class="cb" style="font-family:'Liberation Sans',Arial,sans-serif;font-size:10.2px" fill="#262626">0</text>
<line x1="950.20" y1="257.75" x2="953.20" y2="257.75" stroke="#222" stroke-width="0.8" opacity="0.85"/>
<line x1="962.90" y1="257.75" x2="965.90" y2="257.75" stroke="#222" stroke-width="0.8" opacity="0.85"/>
<text x="969.90" y="261.55" class="cb" style="font-family:'Liberation Sans',Arial,sans-serif;font-size:10.2px" fill="#262626">5</text>
<line x1="950.20" y1="221.09" x2="953.20" y2="221.09" stroke="#222" stroke-width="0.8" opacity="0.85"/>
<line x1="962.90" y1="221.09" x2="965.90" y2="221.09" stroke="#222" stroke-width="0.8" opacity="0.85"/>
<text x="969.90" y="224.89" class="cb" style="font-family:'Liberation Sans',Arial,sans-serif;font-size:10.2px" fill="#262626">10</text>
<line x1="950.20" y1="184.44" x2="953.20" y2="184.44" stroke="#222" stroke-width="0.8" opacity="0.85"/>
<line x1="962.90" y1="184.44" x2="965.90" y2="184.44" stroke="#222" stroke-width="0.8" opacity="0.85"/>
<text x="969.90" y="188.24" class="cb" style="font-family:'Liberation Sans',Arial,sans-serif;font-size:10.2px" fill="#262626">15</text>
<line x1="950.20" y1="147.79" x2="953.20" y2="147.79" stroke="#222" stroke-width="0.8" opacity="0.85"/>
<line x1="962.90" y1="147.79" x2="965.90" y2="147.79" stroke="#222" stroke-width="0.8" opacity="0.85"/>
<text x="969.90" y="151.59" class="cb" style="font-family:'Liberation Sans',Arial,sans-serif;font-size:10.2px" fill="#262626">20</text>
<line x1="950.20" y1="111.14" x2="953.20" y2="111.14" stroke="#222" stroke-width="0.8" opacity="0.85"/>
<line x1="962.90" y1="111.14" x2="965.90" y2="111.14" stroke="#222" stroke-width="0.8" opacity="0.85"/>
<text x="969.90" y="114.94" class="cb" style="font-family:'Liberation Sans',Arial,sans-serif;font-size:10.2px" fill="#262626">25</text>
<line x1="950.20" y1="74.48" x2="953.20" y2="74.48" stroke="#222" stroke-width="0.8" opacity="0.85"/>
<line x1="962.90" y1="74.48" x2="965.90" y2="74.48" stroke="#222" stroke-width="0.8" opacity="0.85"/>
<text x="969.90" y="78.28" class="cb" style="font-family:'Liberation Sans',Arial,sans-serif;font-size:10.2px" fill="#262626">30</text>
<line x1="950.20" y1="37.83" x2="953.20" y2="37.83" stroke="#222" stroke-width="0.8" opacity="0.85"/>
<line x1="962.90" y1="37.83" x2="965.90" y2="37.83" stroke="#222" stroke-width="0.8" opacity="0.85"/>
<text x="969.90" y="41.63" class="cb" style="font-family:'Liberation Sans',Arial,sans-serif;font-size:10.2px" fill="#262626">35</text>
<text transform="translate(1007.50,135.40) rotate(-90)" x="0" y="0" class="lb" text-anchor="middle" style="font-family:'DejaVu Sans',sans-serif;font-size:13.5px" fill="#111" textLength="102.3" lengthAdjust="spacingAndGlyphs">Scatter density</text>
<text x="517.3" y="24" style="font-family:'Liberation Sans',Arial,sans-serif;font-weight:bold;font-size:29px" fill="#000">C</text>
<clipPath id="clipD"><rect x="582.2" y="373.2" width="353.4" height="264.09999999999997"/></clipPath>
<g clip-path="url(#clipD)" shape-rendering="crispEdges">
<rect x="586.60" y="632.66" width="4.95" height="4.04" fill="#00009a"/>
<rect x="586.60" y="628.62" width="4.95" height="4.04" fill="#00009a"/>
<rect x="586.60" y="616.49" width="4.95" height="4.04" fill="#00009a"/>
<rect x="591.55" y="632.66" width="4.95" height="4.04" fill="#47ffb8"/>
<rect x="591.55" y="628.62" width="4.95" height="4.04" fill="#63ff9c"/>
<rect x="591.55" y="624.57" width="4.95" height="4.04" fill="#2bffd4"/>
<rect x="591.55" y="620.53" width="4.95" height="4.04" fill="#009cff"/>
<rect x="591.55" y="616.49" width="4.95" height="4.04" fill="#0000d4"/>
<rect x="591.55" y="612.45" width="4.95" height="4.04" fill="#0000d4"/>
<rect x="591.55" y="608.41" width="4.95" height="4.04" fill="#0000b8"/>
<rect x="591.55" y="604.36" width="4.95" height="4.04" fill="#0000b8"/>
<rect x="596.49" y="632.66" width="4.95" height="4.04" fill="#00d4ff"/>
<rect x="596.49" y="628.62" width="4.95" height="4.04" fill="#0080ff"/>
<rect x="596.49" y="624.57" width="4.95" height="4.04" fill="#47ffb8"/>
<rect x="596.49" y="620.53" width="4.95" height="4.04" fill="#0080ff"/>
<rect x="596.49" y="616.49" width="4.95" height="4.04" fill="#0063ff"/>
<rect x="596.49" y="612.45" width="4.95" height="4.04" fill="#0000d4"/>
<rect x="596.49" y="608.41" width="4.95" height="4.04" fill="#0000d4"/>
<rect x="596.49" y="604.36" width="4.95" height="4.04" fill="#0000d4"/>
<rect x="596.49" y="600.32" width="4.95" height="4.04" fill="#0000b8"/>
<rect x="596.49" y="592.24" width="4.95" height="4.04" fill="#00009a"/>
<rect x="596.49" y="567.99" width="4.95" height="4.04" fill="#00009a"/>
<rect x="601.44" y="632.66" width="4.95" height="4.04" fill="#0000f1"/>
<rect x="601.44" y="628.62" width="4.95" height="4.04" fill="#00d4ff"/>
<rect x="601.44" y="624.57" width="4.95" height="4.04" fill="#002aff"/>
<rect x="601.44" y="620.53" width="4.95" height="4.04" fill="#0047ff"/>
<rect x="601.44" y="616.49" width="4.95" height="4.04" fill="#0047ff"/>
<rect x="601.44" y="612.45" width="4.95" height="4.04" fill="#000eff"/>
<rect x="601.44" y="604.36" width="4.95" height="4.04" fill="#0000f1"/>
<rect x="601.44" y="600.32" width="4.95" height="4.04" fill="#0000d4"/>
<rect x="601.44" y="596.28" width="4.95" height="4.04" fill="#0000f1"/>
<rect x="601.44" y="588.20" width="4.95" height="4.04" fill="#00009a"/>
<rect x="606.39" y="632.66" width="4.95" height="4.04" fill="#0000f1"/>
<rect x="606.39" y="628.62" width="4.95" height="4.04" fill="#000eff"/>
<rect x="606.39" y="624.57" width="4.95" height="4.04" fill="#0000f1"/>
<rect x="606.39" y="620.53" width="4.95" height="4.04" fill="#00f1ff"/>
<rect x="606.39" y="616.49" width="4.95" height="4.04" fill="#0080ff"/>
<rect x="606.39" y="612.45" width="4.95" height="4.04" fill="#002aff"/>
<rect x="606.39" y="608.41" width="4.95" height="4.04" fill="#0000f1"/>
<rect x="606.39" y="604.36" width="4.95" height="4.04" fill="#000eff"/>
<rect x="606.39" y="600.32" width="4.95" height="4.04" fill="#0000f1"/>
<rect x="606.39" y="596.28" width="4.95" height="4.04" fill="#0000f1"/>
<rect x="606.39" y="592.24" width="4.95" height="4.04" fill="#0000d4"/>
<rect x="611.34" y="632.66" width="4.95" height="4.04" fill="#0000f1"/>
<rect x="611.34" y="628.62" width="4.95" height="4.04" fill="#0000f1"/>
<rect x="611.34" y="624.57" width="4.95" height="4.04" fill="#0000f1"/>
<rect x="611.34" y="620.53" width="4.95" height="4.04" fill="#002aff"/>
<rect x="611.34" y="616.49" width="4.95" height="4.04" fill="#0080ff"/>
<rect x="611.34" y="612.45" width="4.95" height="4.04" fill="#002aff"/>
<rect x="611.34" y="608.41" width="4.95" height="4.04" fill="#0000f1"/>
<rect x="611.34" y="604.36" width="4.95" height="4.04" fill="#0000f1"/>
<rect x="611.34" y="600.32" width="4.95" height="4.04" fill="#0000f1"/>
<rect x="611.34" y="596.28" width="4.95" height="4.04" fill="#0000f1"/>
<rect x="611.34" y="588.20" width="4.95" height="4.04" fill="#00009a"/>
<rect x="611.34" y="576.07" width="4.95" height="4.04" fill="#00009a"/>
<rect x="611.34" y="572.03" width="4.95" height="4.04" fill="#00009a"/>
<rect x="611.34" y="567.99" width="4.95" height="4.04" fill="#00009a"/>
<rect x="616.28" y="632.66" width="4.95" height="4.04" fill="#0000d4"/>
<rect x="616.28" y="628.62" width="4.95" height="4.04" fill="#0000f1"/>
<rect x="616.28" y="624.57" width="4.95" height="4.04" fill="#0000f1"/>
<rect x="616.28" y="616.49" width="4.95" height="4.04" fill="#0000f1"/>
<rect x="616.28" y="612.45" width="4.95" height="4.04" fill="#0000f1"/>
<rect x="616.28" y="604.36" width="4.95" height="4.04" fill="#0000f1"/>
<rect x="616.28" y="600.32" width="4.95" height="4.04" fill="#0000f1"/>
<rect x="616.28" y="596.28" width="4.95" height="4.04" fill="#0000f1"/>
<rect x="616.28" y="592.24" width="4.95" height="4.04" fill="#0000f1"/>
<rect x="616.28" y="584.15" width="4.95" height="4.04" fill="#00009a"/>
<rect x="616.28" y="458.85" width="4.95" height="4.04" fill="#00009a"/>
<rect x="621.23" y="628.62" width="4.95" height="4.04" fill="#0000d4"/>
<rect x="621.23" y="624.57" width="4.95" height="4.04" fill="#0000f1"/>
<rect x="621.23" y="620.53" width="4.95" height="4.04" fill="#0000f1"/>
<rect x="621.23" y="616.49" width="4.95" height="4.04" fill="#0000f1"/>
<rect x="621.23" y="612.45" width="4.95" height="4.04" fill="#0000f1"/>
<rect x="621.23" y="608.41" width="4.95" height="4.04" fill="#0000f1"/>
<rect x="621.23" y="600.32" width="4.95" height="4.04" fill="#0000f1"/>
<rect x="621.23" y="596.28" width="4.95" height="4.04" fill="#0000f1"/>
<rect x="621.23" y="592.24" width="4.95" height="4.04" fill="#0000f1"/>
<rect x="621.23" y="588.20" width="4.95" height="4.04" fill="#0000f1"/>
<rect x="621.23" y="567.99" width="4.95" height="4.04" fill="#00009a"/>
<rect x="621.23" y="559.90" width="4.95" height="4.04" fill="#00009a"/>
<rect x="626.18" y="632.66" width="4.95" height="4.04" fill="#0000b8"/>
<rect x="626.18" y="624.57" width="4.95" height="4.04" fill="#0000d4"/>
<rect x="626.18" y="616.49" width="4.95" height="4.04" fill="#0000f1"/>
<rect x="626.18" y="612.45" width="4.95" height="4.04" fill="#0000f1"/>
<rect x="626.18" y="608.41" width="4.95" height="4.04" fill="#0000f1"/>
<rect x="626.18" y="604.36" width="4.95" height="4.04" fill="#0000f1"/>
<rect x="626.18" y="600.32" width="4.95" height="4.04" fill="#0000f1"/>
<rect x="626.18" y="596.28" width="4.95" height="4.04" fill="#0000f1"/>
<rect x="626.18" y="588.20" width="4.95" height="4.04" fill="#0000f1"/>
<rect x="626.18" y="584.15" width="4.95" height="4.04" fill="#00009a"/>
<rect x="626.18" y="580.11" width="4.95" height="4.04" fill="#00009a"/>
<rect x="626.18" y="563.94" width="4.95" height="4.04" fill="#00009a"/>
<rect x="626.18" y="555.86" width="4.95" height="4.04" fill="#00009a"/>
<rect x="631.12" y="632.66" width="4.95" height="4.04" fill="#0000b8"/>
<rect x="631.12" y="620.53" width="4.95" height="4.04" fill="#0000d4"/>
<rect x="631.12" y="616.49" width="4.95" height="4.04" fill="#0000f1"/>
<rect x="631.12" y="612.45" width="4.95" height="4.04" fill="#0000f1"/>
<rect x="631.12" y="608.41" width="4.95" height="4.04" fill="#0000f1"/>
<rect x="631.12" y="604.36" width="4.95" height="4.04" fill="#0000f1"/>
<rect x="631.12" y="596.28" width="4.95" height="4.04" fill="#0000f1"/>
<rect x="631.12" y="592.24" width="4.95" height="4.04" fill="#0000f1"/>
<rect x="631.12" y="588.20" width="4.95" height="4.04" fill="#0000f1"/>
<rect x="631.12" y="580.11" width="4.95" height="4.04" fill="#00009a"/>
<rect x="631.12" y="572.03" width="4.95" height="4.04" fill="#00009a"/>
<rect x="631.12" y="434.60" width="4.95" height="4.04" fill="#00009a"/>
<rect x="636.07" y="628.62" width="4.95" height="4.04" fill="#00009a"/>
<rect x="636.07" y="624.57" width="4.95" height="4.04" fill="#00009a"/>
<rect x="636.07" y="620.53" width="4.95" height="4.04" fill="#0000d4"/>
<rect x="636.07" y="616.49" width="4.95" height="4.04" fill="#0000d4"/>
<rect x="636.07" y="612.45" width="4.95" height="4.04" fill="#0000f1"/>
<rect x="636.07" y="608.41" width="4.95" height="4.04" fill="#0000f1"/>
<rect x="636.07" y="604.36" width="4.95" height="4.04" fill="#0000f1"/>
<rect x="636.07" y="600.32" width="4.95" height="4.04" fill="#0000f1"/>
<rect x="636.07" y="596.28" width="4.95" height="4.04" fill="#0000f1"/>
<rect x="636.07" y="588.20" width="4.95" height="4.04" fill="#0000f1"/>
<rect x="636.07" y="580.11" width="4.95" height="4.04" fill="#00009a"/>
<rect x="636.07" y="567.99" width="4.95" height="4.04" fill="#00009a"/>
<rect x="636.07" y="543.73" width="4.95" height="4.04" fill="#00009a"/>
<rect x="636.07" y="523.52" width="4.95" height="4.04" fill="#00009a"/>
<rect x="641.02" y="608.41" width="4.95" height="4.04" fill="#0000f1"/>
<rect x="641.02" y="604.36" width="4.95" height="4.04" fill="#0000f1"/>
<rect x="641.02" y="600.32" width="4.95" height="4.04" fill="#0000f1"/>
<rect x="641.02" y="592.24" width="4.95" height="4.04" fill="#00009a"/>
<rect x="641.02" y="584.15" width="4.95" height="4.04" fill="#00009a"/>
<rect x="641.02" y="572.03" width="4.95" height="4.04" fill="#00009a"/>
<rect x="641.02" y="567.99" width="4.95" height="4.04" fill="#00009a"/>
<rect x="641.02" y="555.86" width="4.95" height="4.04" fill="#00009a"/>
<rect x="641.02" y="527.57" width="4.95" height="4.04" fill="#00009a"/>
<rect x="641.02" y="487.15" width="4.95" height="4.04" fill="#00009a"/>
<rect x="645.96" y="620.53" width="4.95" height="4.04" fill="#00009a"/>
<rect x="645.96" y="616.49" width="4.95" height="4.04" fill="#00009a"/>
<rect x="645.96" y="600.32" width="4.95" height="4.04" fill="#0000f1"/>
<rect x="645.96" y="588.20" width="4.95" height="4.04" fill="#00009a"/>
<rect x="645.96" y="584.15" width="4.95" height="4.04" fill="#00009a"/>
<rect x="645.96" y="576.07" width="4.95" height="4.04" fill="#00009a"/>
<rect x="645.96" y="572.03" width="4.95" height="4.04" fill="#00009a"/>
<rect x="645.96" y="559.90" width="4.95" height="4.04" fill="#00009a"/>
<rect x="645.96" y="555.86" width="4.95" height="4.04" fill="#00009a"/>
<rect x="645.96" y="551.82" width="4.95" height="4.04" fill="#00009a"/>
<rect x="645.96" y="543.73" width="4.95" height="4.04" fill="#00009a"/>
<rect x="650.91" y="600.32" width="4.95" height="4.04" fill="#00009a"/>
<rect x="650.91" y="596.28" width="4.95" height="4.04" fill="#00009a"/>
<rect x="650.91" y="584.15" width="4.95" height="4.04" fill="#00009a"/>
<rect x="650.91" y="572.03" width="4.95" height="4.04" fill="#00009a"/>
<rect x="650.91" y="555.86" width="4.95" height="4.04" fill="#00009a"/>
<rect x="650.91" y="551.82" width="4.95" height="4.04" fill="#00009a"/>
<rect x="655.86" y="624.57" width="4.95" height="4.04" fill="#00009a"/>
<rect x="655.86" y="616.49" width="4.95" height="4.04" fill="#00009a"/>
<rect x="655.86" y="612.45" width="4.95" height="4.04" fill="#00009a"/>
<rect x="655.86" y="592.24" width="4.95" height="4.04" fill="#00009a"/>
<rect x="655.86" y="588.20" width="4.95" height="4.04" fill="#00009a"/>
<rect x="655.86" y="572.03" width="4.95" height="4.04" fill="#00009a"/>
<rect x="655.86" y="563.94" width="4.95" height="4.04" fill="#00009a"/>
<rect x="655.86" y="559.90" width="4.95" height="4.04" fill="#00009a"/>
<rect x="655.86" y="511.40" width="4.95" height="4.04" fill="#00009a"/>
<rect x="660.81" y="616.49" width="4.95" height="4.04" fill="#00009a"/>
<rect x="660.81" y="596.28" width="4.95" height="4.04" fill="#00009a"/>
<rect x="660.81" y="580.11" width="4.95" height="4.04" fill="#00009a"/>
<rect x="660.81" y="572.03" width="4.95" height="4.04" fill="#00009a"/>
<rect x="660.81" y="563.94" width="4.95" height="4.04" fill="#00009a"/>
<rect x="665.75" y="596.28" width="4.95" height="4.04" fill="#00009a"/>
<rect x="665.75" y="567.99" width="4.95" height="4.04" fill="#00009a"/>
<rect x="665.75" y="551.82" width="4.95" height="4.04" fill="#00009a"/>
<rect x="665.75" y="519.48" width="4.95" height="4.04" fill="#00009a"/>
<rect x="670.70" y="567.99" width="4.95" height="4.04" fill="#00009a"/>
<rect x="670.70" y="559.90" width="4.95" height="4.04" fill="#00009a"/>
<rect x="670.70" y="547.78" width="4.95" height="4.04" fill="#00009a"/>
<rect x="670.70" y="511.40" width="4.95" height="4.04" fill="#00009a"/>
<rect x="675.65" y="559.90" width="4.95" height="4.04" fill="#00009a"/>
<rect x="680.59" y="572.03" width="4.95" height="4.04" fill="#00009a"/>
<rect x="690.49" y="511.40" width="4.95" height="4.04" fill="#00009a"/>
<rect x="695.43" y="580.11" width="4.95" height="4.04" fill="#00009a"/>
<rect x="700.38" y="567.99" width="4.95" height="4.04" fill="#00009a"/>
<rect x="700.38" y="547.78" width="4.95" height="4.04" fill="#00009a"/>
<rect x="705.33" y="535.65" width="4.95" height="4.04" fill="#00009a"/>
<rect x="720.17" y="470.98" width="4.95" height="4.04" fill="#00009a"/>
<rect x="730.06" y="511.40" width="4.95" height="4.04" fill="#00009a"/>
<rect x="730.06" y="495.23" width="4.95" height="4.04" fill="#00009a"/>
<rect x="744.90" y="499.27" width="4.95" height="4.04" fill="#00009a"/>
<rect x="769.64" y="519.48" width="4.95" height="4.04" fill="#00009a"/>
<rect x="774.59" y="499.27" width="4.95" height="4.04" fill="#00009a"/>
<rect x="829.00" y="466.94" width="4.95" height="4.04" fill="#00009a"/>
</g>
<line x1="586.6" y1="632.4" x2="834.0" y2="443.3" stroke="#a01f33" stroke-width="1.3" clip-path="url(#clipD)"/>
<rect x="582.2" y="373.2" width="353.4" height="264.09999999999997" fill="none" stroke="#262626" stroke-width="1.2"/>
<line x1="582.20" y1="637.3" x2="582.20" y2="641.3" stroke="#262626" stroke-width="1"/>
<line x1="578.2" y1="637.30" x2="582.2" y2="637.30" stroke="#262626" stroke-width="1"/>
<text transform="translate(582.20,654.90) scale(1,1.12)" class="tk" text-anchor="middle" style="font-family:'Liberation Sans',Arial,sans-serif;font-size:13px" fill="#262626">0</text>
<text transform="translate(573.60,642.50) scale(1,1.12)" class="tk" text-anchor="end" style="font-family:'Liberation Sans',Arial,sans-serif;font-size:13px" fill="#262626">0</text>
<line x1="631.28" y1="637.3" x2="631.28" y2="641.3" stroke="#262626" stroke-width="1"/>
<line x1="578.2" y1="600.62" x2="582.2" y2="600.62" stroke="#262626" stroke-width="1"/>
<text transform="translate(631.28,654.90) scale(1,1.12)" class="tk" text-anchor="middle" style="font-family:'Liberation Sans',Arial,sans-serif;font-size:13px" fill="#262626">5</text>
<text transform="translate(573.60,605.82) scale(1,1.12)" class="tk" text-anchor="end" style="font-family:'Liberation Sans',Arial,sans-serif;font-size:13px" fill="#262626">5</text>
<line x1="680.37" y1="637.3" x2="680.37" y2="641.3" stroke="#262626" stroke-width="1"/>
<line x1="578.2" y1="563.94" x2="582.2" y2="563.94" stroke="#262626" stroke-width="1"/>
<text transform="translate(680.37,654.90) scale(1,1.12)" class="tk" text-anchor="middle" style="font-family:'Liberation Sans',Arial,sans-serif;font-size:13px" fill="#262626">10</text>
<text transform="translate(573.60,569.14) scale(1,1.12)" class="tk" text-anchor="end" style="font-family:'Liberation Sans',Arial,sans-serif;font-size:13px" fill="#262626">10</text>
<line x1="729.45" y1="637.3" x2="729.45" y2="641.3" stroke="#262626" stroke-width="1"/>
<line x1="578.2" y1="527.26" x2="582.2" y2="527.26" stroke="#262626" stroke-width="1"/>
<text transform="translate(729.45,654.90) scale(1,1.12)" class="tk" text-anchor="middle" style="font-family:'Liberation Sans',Arial,sans-serif;font-size:13px" fill="#262626">15</text>
<text transform="translate(573.60,532.46) scale(1,1.12)" class="tk" text-anchor="end" style="font-family:'Liberation Sans',Arial,sans-serif;font-size:13px" fill="#262626">15</text>
<line x1="778.53" y1="637.3" x2="778.53" y2="641.3" stroke="#262626" stroke-width="1"/>
<line x1="578.2" y1="490.58" x2="582.2" y2="490.58" stroke="#262626" stroke-width="1"/>
<text transform="translate(778.53,654.90) scale(1,1.12)" class="tk" text-anchor="middle" style="font-family:'Liberation Sans',Arial,sans-serif;font-size:13px" fill="#262626">20</text>
<text transform="translate(573.60,495.78) scale(1,1.12)" class="tk" text-anchor="end" style="font-family:'Liberation Sans',Arial,sans-serif;font-size:13px" fill="#262626">20</text>
<line x1="827.62" y1="637.3" x2="827.62" y2="641.3" stroke="#262626" stroke-width="1"/>
<line x1="578.2" y1="453.90" x2="582.2" y2="453.90" stroke="#262626" stroke-width="1"/>
<text transform="translate(827.62,654.90) scale(1,1.12)" class="tk" text-anchor="middle" style="font-family:'Liberation Sans',Arial,sans-serif;font-size:13px" fill="#262626">25</text>
<text transform="translate(573.60,459.10) scale(1,1.12)" class="tk" text-anchor="end" style="font-family:'Liberation Sans',Arial,sans-serif;font-size:13px" fill="#262626">25</text>
<line x1="876.70" y1="637.3" x2="876.70" y2="641.3" stroke="#262626" stroke-width="1"/>
<line x1="578.2" y1="417.22" x2="582.2" y2="417.22" stroke="#262626" stroke-width="1"/>
<text transform="translate(876.70,654.90) scale(1,1.12)" class="tk" text-anchor="middle" style="font-family:'Liberation Sans',Arial,sans-serif;font-size:13px" fill="#262626">30</text>
<text transform="translate(573.60,422.42) scale(1,1.12)" class="tk" text-anchor="end" style="font-family:'Liberation Sans',Arial,sans-serif;font-size:13px" fill="#262626">30</text>
<line x1="925.78" y1="637.3" x2="925.78" y2="641.3" stroke="#262626" stroke-width="1"/>
<line x1="578.2" y1="380.54" x2="582.2" y2="380.54" stroke="#262626" stroke-width="1"/>
<text transform="translate(925.78,654.90) scale(1,1.12)" class="tk" text-anchor="middle" style="font-family:'Liberation Sans',Arial,sans-serif;font-size:13px" fill="#262626">35</text>
<text transform="translate(573.60,385.74) scale(1,1.12)" class="tk" text-anchor="end" style="font-family:'Liberation Sans',Arial,sans-serif;font-size:13px" fill="#262626">35</text>
<text x="758.90" y="671.60" class="ax" text-anchor="middle" style="font-family:'WenQuanYi Zen Hei Mono','WenQuanYi Zen Hei','DejaVu Sans Mono',monospace;font-size:12px" fill="#262626" textLength="87.4" lengthAdjust="spacingAndGlyphs">observed DMS</text>
<text transform="translate(553.00,505.25) rotate(-90)" x="0" y="0" class="ax" text-anchor="middle" style="font-family:'WenQuanYi Zen Hei Mono','WenQuanYi Zen Hei','DejaVu Sans Mono',monospace;font-size:12px" fill="#262626" textLength="57.6" lengthAdjust="spacingAndGlyphs">BPNN DMS</text>
<line x1="834.50" y1="622.10" x2="858.20" y2="622.10" stroke="#b83a48" stroke-width="1.3"/>
<text x="862.90" y="625.70" class="ax" style="font-family:'WenQuanYi Zen Hei Mono','WenQuanYi Zen Hei','DejaVu Sans Mono',monospace;font-size:10.6px" fill="#262626" textLength="62" lengthAdjust="spacingAndGlyphs">Fitted Line</text>
<text transform="translate(582.50,391.30) scale(1,1.0)" class="st" style="color:#b0262c;font-family:'DejaVu Serif',serif;font-size:11.8px;white-space:pre" xml:space="preserve" fill="#b0262c">r = 0.73</text>
<text transform="translate(582.50,405.75) scale(1,1.0)" class="st" style="color:#111;font-family:'DejaVu Serif',serif;font-size:11.8px;white-space:pre" xml:space="preserve" fill="#111">MAE = 1.69 (rMAE = 42.64 %)</text>
<text transform="translate(582.50,420.20) scale(1,1.0)" class="st" style="color:#111;font-family:'DejaVu Serif',serif;font-size:11.8px;white-space:pre" xml:space="preserve" fill="#111">Bias = -0.23 (rBias = -5.88%)</text>
<text transform="translate(582.50,434.65) scale(1,1.0)" class="st" style="color:#111;font-family:'DejaVu Serif',serif;font-size:11.8px;white-space:pre" xml:space="preserve" fill="#111">RMSE = 2.66  (rRMSE = 67.16 %)</text>
<text transform="translate(582.50,449.10) scale(1,1.0)" class="st" style="color:#111;font-family:'DejaVu Serif',serif;font-size:11.8px;white-space:pre" xml:space="preserve" fill="#111">N = 496</text>
<rect x="957.70" y="373.2" width="15.7" height="264.09999999999997" fill="url(#jet)" stroke="#222" stroke-width="0.8"/>
<text x="977.40" y="641.10" class="cb" style="font-family:'Liberation Sans',Arial,sans-serif;font-size:10.2px" fill="#262626">0</text>
<line x1="957.70" y1="600.62" x2="960.70" y2="600.62" stroke="#222" stroke-width="0.8" opacity="0.85"/>
<line x1="970.40" y1="600.62" x2="973.40" y2="600.62" stroke="#222" stroke-width="0.8" opacity="0.85"/>
<text x="977.40" y="604.42" class="cb" style="font-family:'Liberation Sans',Arial,sans-serif;font-size:10.2px" fill="#262626">5</text>
<line x1="957.70" y1="563.94" x2="960.70" y2="563.94" stroke="#222" stroke-width="0.8" opacity="0.85"/>
<line x1="970.40" y1="563.94" x2="973.40" y2="563.94" stroke="#222" stroke-width="0.8" opacity="0.85"/>
<text x="977.40" y="567.74" class="cb" style="font-family:'Liberation Sans',Arial,sans-serif;font-size:10.2px" fill="#262626">10</text>
<line x1="957.70" y1="527.26" x2="960.70" y2="527.26" stroke="#222" stroke-width="0.8" opacity="0.85"/>
<line x1="970.40" y1="527.26" x2="973.40" y2="527.26" stroke="#222" stroke-width="0.8" opacity="0.85"/>
<text x="977.40" y="531.06" class="cb" style="font-family:'Liberation Sans',Arial,sans-serif;font-size:10.2px" fill="#262626">15</text>
<line x1="957.70" y1="490.58" x2="960.70" y2="490.58" stroke="#222" stroke-width="0.8" opacity="0.85"/>
<line x1="970.40" y1="490.58" x2="973.40" y2="490.58" stroke="#222" stroke-width="0.8" opacity="0.85"/>
<text x="977.40" y="494.38" class="cb" style="font-family:'Liberation Sans',Arial,sans-serif;font-size:10.2px" fill="#262626">20</text>
<line x1="957.70" y1="453.90" x2="960.70" y2="453.90" stroke="#222" stroke-width="0.8" opacity="0.85"/>
<line x1="970.40" y1="453.90" x2="973.40" y2="453.90" stroke="#222" stroke-width="0.8" opacity="0.85"/>
<text x="977.40" y="457.70" class="cb" style="font-family:'Liberation Sans',Arial,sans-serif;font-size:10.2px" fill="#262626">25</text>
<line x1="957.70" y1="417.22" x2="960.70" y2="417.22" stroke="#222" stroke-width="0.8" opacity="0.85"/>
<line x1="970.40" y1="417.22" x2="973.40" y2="417.22" stroke="#222" stroke-width="0.8" opacity="0.85"/>
<text x="977.40" y="421.02" class="cb" style="font-family:'Liberation Sans',Arial,sans-serif;font-size:10.2px" fill="#262626">30</text>
<line x1="957.70" y1="380.54" x2="960.70" y2="380.54" stroke="#222" stroke-width="0.8" opacity="0.85"/>
<line x1="970.40" y1="380.54" x2="973.40" y2="380.54" stroke="#222" stroke-width="0.8" opacity="0.85"/>
<text x="977.40" y="384.34" class="cb" style="font-family:'Liberation Sans',Arial,sans-serif;font-size:10.2px" fill="#262626">35</text>
<text transform="translate(1012.20,480.30) rotate(-90)" x="0" y="0" class="lb" text-anchor="middle" style="font-family:'DejaVu Sans',sans-serif;font-size:13.5px" fill="#111" textLength="102.3" lengthAdjust="spacingAndGlyphs">Scatter density</text>
<text x="517.7" y="368" style="font-family:'Liberation Sans',Arial,sans-serif;font-weight:bold;font-size:29px" fill="#000">D</text>
<clipPath id="clipE"><rect x="1084.5" y="30.5" width="353.29999999999995" height="263.9"/></clipPath>
<g clip-path="url(#clipE)" shape-rendering="crispEdges">
<rect x="1085.30" y="289.48" width="4.10" height="4.82" fill="#0000b8"/>
<rect x="1085.30" y="279.83" width="4.10" height="4.82" fill="#00009a"/>
<rect x="1089.40" y="289.48" width="4.10" height="4.82" fill="#0000b8"/>
<rect x="1089.40" y="284.65" width="4.10" height="4.82" fill="#0000b8"/>
<rect x="1089.40" y="275.00" width="4.10" height="4.82" fill="#0000d4"/>
<rect x="1093.50" y="289.48" width="4.10" height="4.82" fill="#0000d4"/>
<rect x="1093.50" y="284.65" width="4.10" height="4.82" fill="#0000d4"/>
<rect x="1093.50" y="279.83" width="4.10" height="4.82" fill="#0000d4"/>
<rect x="1093.50" y="275.00" width="4.10" height="4.82" fill="#0000d4"/>
<rect x="1097.60" y="289.48" width="4.10" height="4.82" fill="#63ff9c"/>
<rect x="1097.60" y="284.65" width="4.10" height="4.82" fill="#80ff80"/>
<rect x="1097.60" y="279.83" width="4.10" height="4.82" fill="#9cff63"/>
<rect x="1097.60" y="275.00" width="4.10" height="4.82" fill="#002aff"/>
<rect x="1097.60" y="270.18" width="4.10" height="4.82" fill="#000eff"/>
<rect x="1097.60" y="265.36" width="4.10" height="4.82" fill="#0000d4"/>
<rect x="1097.60" y="260.53" width="4.10" height="4.82" fill="#0000d4"/>
<rect x="1097.60" y="255.71" width="4.10" height="4.82" fill="#0000b8"/>
<rect x="1101.70" y="289.48" width="4.10" height="4.82" fill="#00f1ff"/>
<rect x="1101.70" y="284.65" width="4.10" height="4.82" fill="#0080ff"/>
<rect x="1101.70" y="279.83" width="4.10" height="4.82" fill="#0080ff"/>
<rect x="1101.70" y="275.00" width="4.10" height="4.82" fill="#00d4ff"/>
<rect x="1101.70" y="270.18" width="4.10" height="4.82" fill="#0063ff"/>
<rect x="1101.70" y="265.36" width="4.10" height="4.82" fill="#0000f1"/>
<rect x="1101.70" y="260.53" width="4.10" height="4.82" fill="#0000f1"/>
<rect x="1105.80" y="289.48" width="4.10" height="4.82" fill="#0000f1"/>
<rect x="1105.80" y="284.65" width="4.10" height="4.82" fill="#0080ff"/>
<rect x="1105.80" y="279.83" width="4.10" height="4.82" fill="#00f1ff"/>
<rect x="1105.80" y="275.00" width="4.10" height="4.82" fill="#00d4ff"/>
<rect x="1105.80" y="270.18" width="4.10" height="4.82" fill="#002aff"/>
<rect x="1105.80" y="265.36" width="4.10" height="4.82" fill="#0000f1"/>
<rect x="1105.80" y="260.53" width="4.10" height="4.82" fill="#0000f1"/>
<rect x="1105.80" y="250.88" width="4.10" height="4.82" fill="#00009a"/>
<rect x="1109.90" y="289.48" width="4.10" height="4.82" fill="#0000f1"/>
<rect x="1109.90" y="284.65" width="4.10" height="4.82" fill="#0000f1"/>
<rect x="1109.90" y="279.83" width="4.10" height="4.82" fill="#00f1ff"/>
<rect x="1109.90" y="275.00" width="4.10" height="4.82" fill="#0047ff"/>
<rect x="1109.90" y="270.18" width="4.10" height="4.82" fill="#0000f1"/>
<rect x="1109.90" y="265.36" width="4.10" height="4.82" fill="#000eff"/>
<rect x="1109.90" y="260.53" width="4.10" height="4.82" fill="#0000f1"/>
<rect x="1109.90" y="255.71" width="4.10" height="4.82" fill="#0000f1"/>
<rect x="1109.90" y="250.88" width="4.10" height="4.82" fill="#0000f1"/>
<rect x="1109.90" y="246.06" width="4.10" height="4.82" fill="#00009a"/>
<rect x="1109.90" y="231.59" width="4.10" height="4.82" fill="#00009a"/>
<rect x="1114.00" y="289.48" width="4.10" height="4.82" fill="#0000f1"/>
<rect x="1114.00" y="284.65" width="4.10" height="4.82" fill="#0000f1"/>
<rect x="1114.00" y="279.83" width="4.10" height="4.82" fill="#0063ff"/>
<rect x="1114.00" y="275.00" width="4.10" height="4.82" fill="#000eff"/>
<rect x="1114.00" y="270.18" width="4.10" height="4.82" fill="#0000f1"/>
<rect x="1114.00" y="265.36" width="4.10" height="4.82" fill="#0000f1"/>
<rect x="1114.00" y="260.53" width="4.10" height="4.82" fill="#0000f1"/>
<rect x="1114.00" y="255.71" width="4.10" height="4.82" fill="#0000f1"/>
<rect x="1114.00" y="250.88" width="4.10" height="4.82" fill="#0000f1"/>
<rect x="1114.00" y="246.06" width="4.10" height="4.82" fill="#00009a"/>
<rect x="1114.00" y="236.41" width="4.10" height="4.82" fill="#00009a"/>
<rect x="1118.10" y="284.65" width="4.10" height="4.82" fill="#0000f1"/>
<rect x="1118.10" y="279.83" width="4.10" height="4.82" fill="#0000f1"/>
<rect x="1118.10" y="275.00" width="4.10" height="4.82" fill="#0000f1"/>
<rect x="1118.10" y="270.18" width="4.10" height="4.82" fill="#0000f1"/>
<rect x="1118.10" y="260.53" width="4.10" height="4.82" fill="#0000f1"/>
<rect x="1118.10" y="255.71" width="4.10" height="4.82" fill="#0000f1"/>
<rect x="1118.10" y="250.88" width="4.10" height="4.82" fill="#0000f1"/>
<rect x="1118.10" y="246.06" width="4.10" height="4.82" fill="#00009a"/>
<rect x="1118.10" y="241.24" width="4.10" height="4.82" fill="#00009a"/>
<rect x="1118.10" y="178.52" width="4.10" height="4.82" fill="#00009a"/>
<rect x="1122.20" y="284.65" width="4.10" height="4.82" fill="#0000f1"/>
<rect x="1122.20" y="279.83" width="4.10" height="4.82" fill="#0000f1"/>
<rect x="1122.20" y="275.00" width="4.10" height="4.82" fill="#0000f1"/>
<rect x="1122.20" y="270.18" width="4.10" height="4.82" fill="#0000f1"/>
<rect x="1122.20" y="265.36" width="4.10" height="4.82" fill="#0000f1"/>
<rect x="1122.20" y="260.53" width="4.10" height="4.82" fill="#0000f1"/>
<rect x="1122.20" y="255.71" width="4.10" height="4.82" fill="#0000f1"/>
<rect x="1122.20" y="250.88" width="4.10" height="4.82" fill="#0000f1"/>
<rect x="1122.20" y="246.06" width="4.10" height="4.82" fill="#00009a"/>
<rect x="1122.20" y="226.76" width="4.10" height="4.82" fill="#00009a"/>
<rect x="1126.30" y="289.48" width="4.10" height="4.82" fill="#0000f1"/>
<rect x="1126.30" y="284.65" width="4.10" height="4.82" fill="#0000f1"/>
<rect x="1126.30" y="279.83" width="4.10" height="4.82" fill="#0000f1"/>
<rect x="1126.30" y="275.00" width="4.10" height="4.82" fill="#0000f1"/>
<rect x="1126.30" y="270.18" width="4.10" height="4.82" fill="#0000f1"/>
<rect x="1126.30" y="265.36" width="4.10" height="4.82" fill="#0000f1"/>
<rect x="1126.30" y="250.88" width="4.10" height="4.82" fill="#0000f1"/>
<rect x="1126.30" y="246.06" width="4.10" height="4.82" fill="#00009a"/>
<rect x="1126.30" y="241.24" width="4.10" height="4.82" fill="#00009a"/>
<rect x="1126.30" y="236.41" width="4.10" height="4.82" fill="#00009a"/>
<rect x="1126.30" y="226.76" width="4.10" height="4.82" fill="#00009a"/>
<rect x="1126.30" y="197.82" width="4.10" height="4.82" fill="#00009a"/>
<rect x="1130.40" y="279.83" width="4.10" height="4.82" fill="#0000f1"/>
<rect x="1130.40" y="275.00" width="4.10" height="4.82" fill="#0000f1"/>
<rect x="1130.40" y="270.18" width="4.10" height="4.82" fill="#0000f1"/>
<rect x="1130.40" y="265.36" width="4.10" height="4.82" fill="#0000f1"/>
<rect x="1130.40" y="255.71" width="4.10" height="4.82" fill="#0000f1"/>
<rect x="1130.40" y="250.88" width="4.10" height="4.82" fill="#0000f1"/>
<rect x="1130.40" y="246.06" width="4.10" height="4.82" fill="#00009a"/>
<rect x="1130.40" y="241.24" width="4.10" height="4.82" fill="#00009a"/>
<rect x="1130.40" y="236.41" width="4.10" height="4.82" fill="#00009a"/>
<rect x="1130.40" y="217.12" width="4.10" height="4.82" fill="#00009a"/>
<rect x="1134.50" y="284.65" width="4.10" height="4.82" fill="#00009a"/>
<rect x="1134.50" y="279.83" width="4.10" height="4.82" fill="#000eff"/>
<rect x="1134.50" y="275.00" width="4.10" height="4.82" fill="#0000f1"/>
<rect x="1134.50" y="265.36" width="4.10" height="4.82" fill="#0000f1"/>
<rect x="1134.50" y="260.53" width="4.10" height="4.82" fill="#00009a"/>
<rect x="1134.50" y="250.88" width="4.10" height="4.82" fill="#00009a"/>
<rect x="1134.50" y="241.24" width="4.10" height="4.82" fill="#00009a"/>
<rect x="1134.50" y="236.41" width="4.10" height="4.82" fill="#00009a"/>
<rect x="1134.50" y="231.59" width="4.10" height="4.82" fill="#00009a"/>
<rect x="1134.50" y="221.94" width="4.10" height="4.82" fill="#00009a"/>
<rect x="1134.50" y="173.70" width="4.10" height="4.82" fill="#00009a"/>
<rect x="1138.60" y="284.65" width="4.10" height="4.82" fill="#00009a"/>
<rect x="1138.60" y="279.83" width="4.10" height="4.82" fill="#0000f1"/>
<rect x="1138.60" y="275.00" width="4.10" height="4.82" fill="#0000f1"/>
<rect x="1138.60" y="270.18" width="4.10" height="4.82" fill="#00009a"/>
<rect x="1138.60" y="260.53" width="4.10" height="4.82" fill="#0000f1"/>
<rect x="1138.60" y="255.71" width="4.10" height="4.82" fill="#00009a"/>
<rect x="1138.60" y="246.06" width="4.10" height="4.82" fill="#00009a"/>
<rect x="1138.60" y="241.24" width="4.10" height="4.82" fill="#00009a"/>
<rect x="1138.60" y="236.41" width="4.10" height="4.82" fill="#00009a"/>
<rect x="1138.60" y="217.12" width="4.10" height="4.82" fill="#00009a"/>
<rect x="1138.60" y="212.29" width="4.10" height="4.82" fill="#00009a"/>
<rect x="1142.70" y="279.83" width="4.10" height="4.82" fill="#00009a"/>
<rect x="1142.70" y="270.18" width="4.10" height="4.82" fill="#00009a"/>
<rect x="1142.70" y="265.36" width="4.10" height="4.82" fill="#0000f1"/>
<rect x="1142.70" y="260.53" width="4.10" height="4.82" fill="#000eff"/>
<rect x="1142.70" y="255.71" width="4.10" height="4.82" fill="#00009a"/>
<rect x="1142.70" y="246.06" width="4.10" height="4.82" fill="#00009a"/>
<rect x="1142.70" y="221.94" width="4.10" height="4.82" fill="#00009a"/>
<rect x="1142.70" y="217.12" width="4.10" height="4.82" fill="#00009a"/>
<rect x="1142.70" y="212.29" width="4.10" height="4.82" fill="#00009a"/>
<rect x="1142.70" y="202.64" width="4.10" height="4.82" fill="#00009a"/>
<rect x="1146.80" y="279.83" width="4.10" height="4.82" fill="#00009a"/>
<rect x="1146.80" y="275.00" width="4.10" height="4.82" fill="#00009a"/>
<rect x="1146.80" y="270.18" width="4.10" height="4.82" fill="#00009a"/>
<rect x="1146.80" y="265.36" width="4.10" height="4.82" fill="#00009a"/>
<rect x="1146.80" y="260.53" width="4.10" height="4.82" fill="#00009a"/>
<rect x="1146.80" y="250.88" width="4.10" height="4.82" fill="#00009a"/>
<rect x="1146.80" y="246.06" width="4.10" height="4.82" fill="#00009a"/>
<rect x="1146.80" y="241.24" width="4.10" height="4.82" fill="#00009a"/>
<rect x="1146.80" y="236.41" width="4.10" height="4.82" fill="#00009a"/>
<rect x="1146.80" y="221.94" width="4.10" height="4.82" fill="#00009a"/>
<rect x="1146.80" y="217.12" width="4.10" height="4.82" fill="#00009a"/>
<rect x="1146.80" y="212.29" width="4.10" height="4.82" fill="#00009a"/>
<rect x="1150.90" y="284.65" width="4.10" height="4.82" fill="#00009a"/>
<rect x="1150.90" y="275.00" width="4.10" height="4.82" fill="#00009a"/>
<rect x="1150.90" y="265.36" width="4.10" height="4.82" fill="#00009a"/>
<rect x="1150.90" y="255.71" width="4.10" height="4.82" fill="#00009a"/>
<rect x="1150.90" y="250.88" width="4.10" height="4.82" fill="#00009a"/>
<rect x="1150.90" y="246.06" width="4.10" height="4.82" fill="#00009a"/>
<rect x="1150.90" y="217.12" width="4.10" height="4.82" fill="#00009a"/>
<rect x="1150.90" y="168.88" width="4.10" height="4.82" fill="#00009a"/>
<rect x="1150.90" y="159.23" width="4.10" height="4.82" fill="#00009a"/>
<rect x="1155.00" y="284.65" width="4.10" height="4.82" fill="#00009a"/>
<rect x="1155.00" y="279.83" width="4.10" height="4.82" fill="#00009a"/>
<rect x="1155.00" y="270.18" width="4.10" height="4.82" fill="#00009a"/>
<rect x="1155.00" y="265.36" width="4.10" height="4.82" fill="#00009a"/>
<rect x="1155.00" y="260.53" width="4.10" height="4.82" fill="#00009a"/>
<rect x="1155.00" y="250.88" width="4.10" height="4.82" fill="#00009a"/>
<rect x="1155.00" y="207.47" width="4.10" height="4.82" fill="#00009a"/>
<rect x="1155.00" y="197.82" width="4.10" height="4.82" fill="#00009a"/>
<rect x="1155.00" y="188.17" width="4.10" height="4.82" fill="#00009a"/>
<rect x="1159.10" y="275.00" width="4.10" height="4.82" fill="#00009a"/>
<rect x="1159.10" y="255.71" width="4.10" height="4.82" fill="#00009a"/>
<rect x="1159.10" y="246.06" width="4.10" height="4.82" fill="#00009a"/>
<rect x="1159.10" y="226.76" width="4.10" height="4.82" fill="#00009a"/>
<rect x="1159.10" y="154.40" width="4.10" height="4.82" fill="#00009a"/>
<rect x="1163.20" y="279.83" width="4.10" height="4.82" fill="#00009a"/>
<rect x="1163.20" y="241.24" width="4.10" height="4.82" fill="#00009a"/>
<rect x="1163.20" y="221.94" width="4.10" height="4.82" fill="#00009a"/>
<rect x="1163.20" y="212.29" width="4.10" height="4.82" fill="#00009a"/>
<rect x="1163.20" y="178.52" width="4.10" height="4.82" fill="#00009a"/>
<rect x="1163.20" y="53.10" width="4.10" height="4.82" fill="#00009a"/>
<rect x="1167.30" y="255.71" width="4.10" height="4.82" fill="#00009a"/>
<rect x="1167.30" y="130.28" width="4.10" height="4.82" fill="#00009a"/>
<rect x="1167.30" y="120.64" width="4.10" height="4.82" fill="#00009a"/>
<rect x="1167.30" y="82.04" width="4.10" height="4.82" fill="#00009a"/>
<rect x="1171.40" y="275.00" width="4.10" height="4.82" fill="#00009a"/>
<rect x="1171.40" y="260.53" width="4.10" height="4.82" fill="#00009a"/>
<rect x="1171.40" y="226.76" width="4.10" height="4.82" fill="#00009a"/>
<rect x="1171.40" y="197.82" width="4.10" height="4.82" fill="#00009a"/>
<rect x="1171.40" y="168.88" width="4.10" height="4.82" fill="#00009a"/>
<rect x="1175.50" y="275.00" width="4.10" height="4.82" fill="#00009a"/>
<rect x="1175.50" y="250.88" width="4.10" height="4.82" fill="#00009a"/>
<rect x="1175.50" y="241.24" width="4.10" height="4.82" fill="#00009a"/>
<rect x="1175.50" y="226.76" width="4.10" height="4.82" fill="#00009a"/>
<rect x="1175.50" y="115.81" width="4.10" height="4.82" fill="#00009a"/>
<rect x="1179.60" y="260.53" width="4.10" height="4.82" fill="#00009a"/>
<rect x="1183.70" y="284.65" width="4.10" height="4.82" fill="#00009a"/>
<rect x="1183.70" y="197.82" width="4.10" height="4.82" fill="#00009a"/>
<rect x="1187.80" y="217.12" width="4.10" height="4.82" fill="#00009a"/>
<rect x="1187.80" y="139.93" width="4.10" height="4.82" fill="#00009a"/>
<rect x="1191.90" y="250.88" width="4.10" height="4.82" fill="#00009a"/>
<rect x="1196.00" y="193.00" width="4.10" height="4.82" fill="#00009a"/>
<rect x="1196.00" y="183.35" width="4.10" height="4.82" fill="#00009a"/>
<rect x="1200.10" y="236.41" width="4.10" height="4.82" fill="#00009a"/>
<rect x="1200.10" y="221.94" width="4.10" height="4.82" fill="#00009a"/>
<rect x="1200.10" y="101.34" width="4.10" height="4.82" fill="#00009a"/>
<rect x="1204.20" y="246.06" width="4.10" height="4.82" fill="#00009a"/>
<rect x="1204.20" y="217.12" width="4.10" height="4.82" fill="#00009a"/>
<rect x="1204.20" y="193.00" width="4.10" height="4.82" fill="#00009a"/>
<rect x="1204.20" y="159.23" width="4.10" height="4.82" fill="#00009a"/>
<rect x="1216.50" y="173.70" width="4.10" height="4.82" fill="#00009a"/>
<rect x="1228.80" y="96.52" width="4.10" height="4.82" fill="#00009a"/>
<rect x="1286.20" y="139.93" width="4.10" height="4.82" fill="#00009a"/>
</g>
<line x1="1088.8" y1="293.9" x2="1290.3" y2="123.0" stroke="#a01f33" stroke-width="1.3" clip-path="url(#clipE)"/>
<rect x="1084.5" y="30.5" width="353.29999999999995" height="263.9" fill="none" stroke="#262626" stroke-width="1.2"/>
<line x1="1084.50" y1="294.4" x2="1084.50" y2="298.4" stroke="#262626" stroke-width="1"/>
<line x1="1080.5" y1="294.40" x2="1084.5" y2="294.40" stroke="#262626" stroke-width="1"/>
<text transform="translate(1084.50,312.00) scale(1,1.12)" class="tk" text-anchor="middle" style="font-family:'Liberation Sans',Arial,sans-serif;font-size:13px" fill="#262626">0</text>
<text transform="translate(1075.90,299.60) scale(1,1.12)" class="tk" text-anchor="end" style="font-family:'Liberation Sans',Arial,sans-serif;font-size:13px" fill="#262626">0</text>
<line x1="1133.57" y1="294.4" x2="1133.57" y2="298.4" stroke="#262626" stroke-width="1"/>
<line x1="1080.5" y1="257.75" x2="1084.5" y2="257.75" stroke="#262626" stroke-width="1"/>
<text transform="translate(1133.57,312.00) scale(1,1.12)" class="tk" text-anchor="middle" style="font-family:'Liberation Sans',Arial,sans-serif;font-size:13px" fill="#262626">5</text>
<text transform="translate(1075.90,262.95) scale(1,1.12)" class="tk" text-anchor="end" style="font-family:'Liberation Sans',Arial,sans-serif;font-size:13px" fill="#262626">5</text>
<line x1="1182.64" y1="294.4" x2="1182.64" y2="298.4" stroke="#262626" stroke-width="1"/>
<line x1="1080.5" y1="221.09" x2="1084.5" y2="221.09" stroke="#262626" stroke-width="1"/>
<text transform="translate(1182.64,312.00) scale(1,1.12)" class="tk" text-anchor="middle" style="font-family:'Liberation Sans',Arial,sans-serif;font-size:13px" fill="#262626">10</text>
<text transform="translate(1075.90,226.29) scale(1,1.12)" class="tk" text-anchor="end" style="font-family:'Liberation Sans',Arial,sans-serif;font-size:13px" fill="#262626">10</text>
<line x1="1231.71" y1="294.4" x2="1231.71" y2="298.4" stroke="#262626" stroke-width="1"/>
<line x1="1080.5" y1="184.44" x2="1084.5" y2="184.44" stroke="#262626" stroke-width="1"/>
<text transform="translate(1231.71,312.00) scale(1,1.12)" class="tk" text-anchor="middle" style="font-family:'Liberation Sans',Arial,sans-serif;font-size:13px" fill="#262626">15</text>
<text transform="translate(1075.90,189.64) scale(1,1.12)" class="tk" text-anchor="end" style="font-family:'Liberation Sans',Arial,sans-serif;font-size:13px" fill="#262626">15</text>
<line x1="1280.78" y1="294.4" x2="1280.78" y2="298.4" stroke="#262626" stroke-width="1"/>
<line x1="1080.5" y1="147.79" x2="1084.5" y2="147.79" stroke="#262626" stroke-width="1"/>
<text transform="translate(1280.78,312.00) scale(1,1.12)" class="tk" text-anchor="middle" style="font-family:'Liberation Sans',Arial,sans-serif;font-size:13px" fill="#262626">20</text>
<text transform="translate(1075.90,152.99) scale(1,1.12)" class="tk" text-anchor="end" style="font-family:'Liberation Sans',Arial,sans-serif;font-size:13px" fill="#262626">20</text>
<line x1="1329.85" y1="294.4" x2="1329.85" y2="298.4" stroke="#262626" stroke-width="1"/>
<line x1="1080.5" y1="111.14" x2="1084.5" y2="111.14" stroke="#262626" stroke-width="1"/>
<text transform="translate(1329.85,312.00) scale(1,1.12)" class="tk" text-anchor="middle" style="font-family:'Liberation Sans',Arial,sans-serif;font-size:13px" fill="#262626">25</text>
<text transform="translate(1075.90,116.34) scale(1,1.12)" class="tk" text-anchor="end" style="font-family:'Liberation Sans',Arial,sans-serif;font-size:13px" fill="#262626">25</text>
<line x1="1378.92" y1="294.4" x2="1378.92" y2="298.4" stroke="#262626" stroke-width="1"/>
<line x1="1080.5" y1="74.48" x2="1084.5" y2="74.48" stroke="#262626" stroke-width="1"/>
<text transform="translate(1378.92,312.00) scale(1,1.12)" class="tk" text-anchor="middle" style="font-family:'Liberation Sans',Arial,sans-serif;font-size:13px" fill="#262626">30</text>
<text transform="translate(1075.90,79.68) scale(1,1.12)" class="tk" text-anchor="end" style="font-family:'Liberation Sans',Arial,sans-serif;font-size:13px" fill="#262626">30</text>
<line x1="1427.99" y1="294.4" x2="1427.99" y2="298.4" stroke="#262626" stroke-width="1"/>
<line x1="1080.5" y1="37.83" x2="1084.5" y2="37.83" stroke="#262626" stroke-width="1"/>
<text transform="translate(1427.99,312.00) scale(1,1.12)" class="tk" text-anchor="middle" style="font-family:'Liberation Sans',Arial,sans-serif;font-size:13px" fill="#262626">35</text>
<text transform="translate(1075.90,43.03) scale(1,1.12)" class="tk" text-anchor="end" style="font-family:'Liberation Sans',Arial,sans-serif;font-size:13px" fill="#262626">35</text>
<text x="1261.15" y="328.70" class="ax" text-anchor="middle" style="font-family:'WenQuanYi Zen Hei Mono','WenQuanYi Zen Hei','DejaVu Sans Mono',monospace;font-size:12px" fill="#262626" textLength="87.4" lengthAdjust="spacingAndGlyphs">observed DMS</text>
<text transform="translate(1055.30,162.45) rotate(-90)" x="0" y="0" class="ax" text-anchor="middle" style="font-family:'WenQuanYi Zen Hei Mono','WenQuanYi Zen Hei','DejaVu Sans Mono',monospace;font-size:12px" fill="#262626" textLength="57.6" lengthAdjust="spacingAndGlyphs">BPNN DMS</text>
<line x1="1336.70" y1="279.20" x2="1360.40" y2="279.20" stroke="#b83a48" stroke-width="1.3"/>
<text x="1365.10" y="282.80" class="ax" style="font-family:'WenQuanYi Zen Hei Mono','WenQuanYi Zen Hei','DejaVu Sans Mono',monospace;font-size:10.6px" fill="#262626" textLength="62" lengthAdjust="spacingAndGlyphs">Fitted Line</text>
<text transform="translate(1084.80,48.60) scale(1,1.0)" class="st" style="color:#b0262c;font-family:'DejaVu Serif',serif;font-size:11.8px;white-space:pre" xml:space="preserve" fill="#b0262c">r = 0.69</text>
<text transform="translate(1084.80,63.05) scale(1,1.0)" class="st" style="color:#111;font-family:'DejaVu Serif',serif;font-size:11.8px;white-space:pre" xml:space="preserve" fill="#111">MAE = 2.05 (rMAE = 50.17 %)</text>
<text transform="translate(1084.80,77.50) scale(1,1.0)" class="st" style="color:#111;font-family:'DejaVu Serif',serif;font-size:11.8px;white-space:pre" xml:space="preserve" fill="#111">Bias = -0.07 (rBias = -1.80%)</text>
<text transform="translate(1084.80,91.95) scale(1,1.0)" class="st" style="color:#111;font-family:'DejaVu Serif',serif;font-size:11.8px;white-space:pre" xml:space="preserve" fill="#111">RMSE = 3.26  (rRMSE = 79.81 %)</text>
<text transform="translate(1084.80,106.40) scale(1,1.0)" class="st" style="color:#111;font-family:'DejaVu Serif',serif;font-size:11.8px;white-space:pre" xml:space="preserve" fill="#111">N = 496</text>
<rect x="1459.90" y="30.5" width="15.7" height="263.9" fill="url(#jet)" stroke="#222" stroke-width="0.8"/>
<text x="1479.60" y="298.20" class="cb" style="font-family:'Liberation Sans',Arial,sans-serif;font-size:10.2px" fill="#262626">0</text>
<line x1="1459.90" y1="257.75" x2="1462.90" y2="257.75" stroke="#222" stroke-width="0.8" opacity="0.85"/>
<line x1="1472.60" y1="257.75" x2="1475.60" y2="257.75" stroke="#222" stroke-width="0.8" opacity="0.85"/>
<text x="1479.60" y="261.55" class="cb" style="font-family:'Liberation Sans',Arial,sans-serif;font-size:10.2px" fill="#262626">5</text>
<line x1="1459.90" y1="221.09" x2="1462.90" y2="221.09" stroke="#222" stroke-width="0.8" opacity="0.85"/>
<line x1="1472.60" y1="221.09" x2="1475.60" y2="221.09" stroke="#222" stroke-width="0.8" opacity="0.85"/>
<text x="1479.60" y="224.89" class="cb" style="font-family:'Liberation Sans',Arial,sans-serif;font-size:10.2px" fill="#262626">10</text>
<line x1="1459.90" y1="184.44" x2="1462.90" y2="184.44" stroke="#222" stroke-width="0.8" opacity="0.85"/>
<line x1="1472.60" y1="184.44" x2="1475.60" y2="184.44" stroke="#222" stroke-width="0.8" opacity="0.85"/>
<text x="1479.60" y="188.24" class="cb" style="font-family:'Liberation Sans',Arial,sans-serif;font-size:10.2px" fill="#262626">15</text>
<line x1="1459.90" y1="147.79" x2="1462.90" y2="147.79" stroke="#222" stroke-width="0.8" opacity="0.85"/>
<line x1="1472.60" y1="147.79" x2="1475.60" y2="147.79" stroke="#222" stroke-width="0.8" opacity="0.85"/>
<text x="1479.60" y="151.59" class="cb" style="font-family:'Liberation Sans',Arial,sans-serif;font-size:10.2px" fill="#262626">20</text>
<line x1="1459.90" y1="111.14" x2="1462.90" y2="111.14" stroke="#222" stroke-width="0.8" opacity="0.85"/>
<line x1="1472.60" y1="111.14" x2="1475.60" y2="111.14" stroke="#222" stroke-width="0.8" opacity="0.85"/>
<text x="1479.60" y="114.94" class="cb" style="font-family:'Liberation Sans',Arial,sans-serif;font-size:10.2px" fill="#262626">25</text>
<line x1="1459.90" y1="74.48" x2="1462.90" y2="74.48" stroke="#222" stroke-width="0.8" opacity="0.85"/>
<line x1="1472.60" y1="74.48" x2="1475.60" y2="74.48" stroke="#222" stroke-width="0.8" opacity="0.85"/>
<text x="1479.60" y="78.28" class="cb" style="font-family:'Liberation Sans',Arial,sans-serif;font-size:10.2px" fill="#262626">30</text>
<line x1="1459.90" y1="37.83" x2="1462.90" y2="37.83" stroke="#222" stroke-width="0.8" opacity="0.85"/>
<line x1="1472.60" y1="37.83" x2="1475.60" y2="37.83" stroke="#222" stroke-width="0.8" opacity="0.85"/>
<text x="1479.60" y="41.63" class="cb" style="font-family:'Liberation Sans',Arial,sans-serif;font-size:10.2px" fill="#262626">35</text>
<text transform="translate(1515.20,136.70) rotate(-90)" x="0" y="0" class="lb" text-anchor="middle" style="font-family:'DejaVu Sans',sans-serif;font-size:13.5px" fill="#111" textLength="102.3" lengthAdjust="spacingAndGlyphs">Scatter density</text>
<text x="1032.1" y="24" style="font-family:'Liberation Sans',Arial,sans-serif;font-weight:bold;font-size:29px" fill="#000">E</text>
<clipPath id="clipF"><rect x="1073.3" y="373.2" width="353.4000000000001" height="264.09999999999997"/></clipPath>
<g clip-path="url(#clipF)" shape-rendering="crispEdges">
<rect x="1080.70" y="631.21" width="3.17" height="5.39" fill="#0000f1"/>
<rect x="1080.70" y="625.82" width="3.17" height="5.39" fill="#0000d4"/>
<rect x="1080.70" y="615.04" width="3.17" height="5.39" fill="#00009a"/>
<rect x="1083.87" y="631.21" width="3.17" height="5.39" fill="#0000f1"/>
<rect x="1083.87" y="625.82" width="3.17" height="5.39" fill="#0000f1"/>
<rect x="1083.87" y="620.43" width="3.17" height="5.39" fill="#0000d4"/>
<rect x="1083.87" y="604.27" width="3.17" height="5.39" fill="#00009a"/>
<rect x="1083.87" y="598.88" width="3.17" height="5.39" fill="#00009a"/>
<rect x="1087.04" y="631.21" width="3.17" height="5.39" fill="#0000f1"/>
<rect x="1087.04" y="625.82" width="3.17" height="5.39" fill="#0000f1"/>
<rect x="1087.04" y="620.43" width="3.17" height="5.39" fill="#0000f1"/>
<rect x="1087.04" y="615.04" width="3.17" height="5.39" fill="#0000d4"/>
<rect x="1090.21" y="631.21" width="3.17" height="5.39" fill="#0080ff"/>
<rect x="1090.21" y="625.82" width="3.17" height="5.39" fill="#0080ff"/>
<rect x="1090.21" y="620.43" width="3.17" height="5.39" fill="#0047ff"/>
<rect x="1090.21" y="615.04" width="3.17" height="5.39" fill="#0000f1"/>
<rect x="1090.21" y="609.65" width="3.17" height="5.39" fill="#0000d4"/>
<rect x="1090.21" y="593.49" width="3.17" height="5.39" fill="#0000d4"/>
<rect x="1090.21" y="582.71" width="3.17" height="5.39" fill="#00009a"/>
<rect x="1093.38" y="631.21" width="3.17" height="5.39" fill="#00f1ff"/>
<rect x="1093.38" y="625.82" width="3.17" height="5.39" fill="#009cff"/>
<rect x="1093.38" y="620.43" width="3.17" height="5.39" fill="#00d4ff"/>
<rect x="1093.38" y="615.04" width="3.17" height="5.39" fill="#0063ff"/>
<rect x="1093.38" y="609.65" width="3.17" height="5.39" fill="#0000f1"/>
<rect x="1093.38" y="604.27" width="3.17" height="5.39" fill="#0000f1"/>
<rect x="1093.38" y="598.88" width="3.17" height="5.39" fill="#0000f1"/>
<rect x="1093.38" y="593.49" width="3.17" height="5.39" fill="#0000d4"/>
<rect x="1093.38" y="431.82" width="3.17" height="5.39" fill="#00009a"/>
<rect x="1096.55" y="631.21" width="3.17" height="5.39" fill="#000eff"/>
<rect x="1096.55" y="625.82" width="3.17" height="5.39" fill="#63ff9c"/>
<rect x="1096.55" y="620.43" width="3.17" height="5.39" fill="#009cff"/>
<rect x="1096.55" y="615.04" width="3.17" height="5.39" fill="#002aff"/>
<rect x="1096.55" y="609.65" width="3.17" height="5.39" fill="#0000f1"/>
<rect x="1096.55" y="604.27" width="3.17" height="5.39" fill="#0000f1"/>
<rect x="1096.55" y="598.88" width="3.17" height="5.39" fill="#0000f1"/>
<rect x="1096.55" y="593.49" width="3.17" height="5.39" fill="#0000d4"/>
<rect x="1096.55" y="566.54" width="3.17" height="5.39" fill="#00009a"/>
<rect x="1096.55" y="555.76" width="3.17" height="5.39" fill="#00009a"/>
<rect x="1099.72" y="631.21" width="3.17" height="5.39" fill="#0000f1"/>
<rect x="1099.72" y="625.82" width="3.17" height="5.39" fill="#0080ff"/>
<rect x="1099.72" y="620.43" width="3.17" height="5.39" fill="#00b8ff"/>
<rect x="1099.72" y="615.04" width="3.17" height="5.39" fill="#0063ff"/>
<rect x="1099.72" y="609.65" width="3.17" height="5.39" fill="#0000f1"/>
<rect x="1099.72" y="604.27" width="3.17" height="5.39" fill="#0000f1"/>
<rect x="1099.72" y="598.88" width="3.17" height="5.39" fill="#0000f1"/>
<rect x="1099.72" y="593.49" width="3.17" height="5.39" fill="#0000d4"/>
<rect x="1099.72" y="588.10" width="3.17" height="5.39" fill="#00009a"/>
<rect x="1099.72" y="544.99" width="3.17" height="5.39" fill="#00009a"/>
<rect x="1099.72" y="523.43" width="3.17" height="5.39" fill="#00009a"/>
<rect x="1102.89" y="631.21" width="3.17" height="5.39" fill="#0000f1"/>
<rect x="1102.89" y="625.82" width="3.17" height="5.39" fill="#0063ff"/>
<rect x="1102.89" y="620.43" width="3.17" height="5.39" fill="#0000d4"/>
<rect x="1102.89" y="615.04" width="3.17" height="5.39" fill="#0080ff"/>
<rect x="1102.89" y="609.65" width="3.17" height="5.39" fill="#0000f1"/>
<rect x="1102.89" y="604.27" width="3.17" height="5.39" fill="#0000f1"/>
<rect x="1102.89" y="598.88" width="3.17" height="5.39" fill="#0000f1"/>
<rect x="1102.89" y="566.54" width="3.17" height="5.39" fill="#00009a"/>
<rect x="1102.89" y="544.99" width="3.17" height="5.39" fill="#00009a"/>
<rect x="1106.06" y="631.21" width="3.17" height="5.39" fill="#0000f1"/>
<rect x="1106.06" y="625.82" width="3.17" height="5.39" fill="#0000f1"/>
<rect x="1106.06" y="620.43" width="3.17" height="5.39" fill="#0080ff"/>
<rect x="1106.06" y="615.04" width="3.17" height="5.39" fill="#000eff"/>
<rect x="1106.06" y="609.65" width="3.17" height="5.39" fill="#0000f1"/>
<rect x="1106.06" y="604.27" width="3.17" height="5.39" fill="#0000f1"/>
<rect x="1106.06" y="593.49" width="3.17" height="5.39" fill="#0000f1"/>
<rect x="1106.06" y="571.93" width="3.17" height="5.39" fill="#00009a"/>
<rect x="1109.23" y="631.21" width="3.17" height="5.39" fill="#0000f1"/>
<rect x="1109.23" y="625.82" width="3.17" height="5.39" fill="#000eff"/>
<rect x="1109.23" y="620.43" width="3.17" height="5.39" fill="#0000f1"/>
<rect x="1109.23" y="615.04" width="3.17" height="5.39" fill="#0047ff"/>
<rect x="1109.23" y="609.65" width="3.17" height="5.39" fill="#0000f1"/>
<rect x="1109.23" y="604.27" width="3.17" height="5.39" fill="#0000f1"/>
<rect x="1109.23" y="598.88" width="3.17" height="5.39" fill="#0000f1"/>
<rect x="1109.23" y="593.49" width="3.17" height="5.39" fill="#0000f1"/>
<rect x="1109.23" y="588.10" width="3.17" height="5.39" fill="#00009a"/>
<rect x="1109.23" y="571.93" width="3.17" height="5.39" fill="#00009a"/>
<rect x="1112.40" y="631.21" width="3.17" height="5.39" fill="#0000f1"/>
<rect x="1112.40" y="625.82" width="3.17" height="5.39" fill="#0000f1"/>
<rect x="1112.40" y="620.43" width="3.17" height="5.39" fill="#0000f1"/>
<rect x="1112.40" y="615.04" width="3.17" height="5.39" fill="#0000f1"/>
<rect x="1112.40" y="609.65" width="3.17" height="5.39" fill="#0000f1"/>
<rect x="1112.40" y="604.27" width="3.17" height="5.39" fill="#0000f1"/>
<rect x="1112.40" y="598.88" width="3.17" height="5.39" fill="#0000f1"/>
<rect x="1112.40" y="593.49" width="3.17" height="5.39" fill="#0000f1"/>
<rect x="1112.40" y="582.71" width="3.17" height="5.39" fill="#00009a"/>
<rect x="1112.40" y="577.32" width="3.17" height="5.39" fill="#00009a"/>
<rect x="1112.40" y="555.76" width="3.17" height="5.39" fill="#00009a"/>
<rect x="1112.40" y="550.38" width="3.17" height="5.39" fill="#00009a"/>
<rect x="1112.40" y="512.65" width="3.17" height="5.39" fill="#00009a"/>
<rect x="1112.40" y="501.88" width="3.17" height="5.39" fill="#00009a"/>
<rect x="1112.40" y="496.49" width="3.17" height="5.39" fill="#00009a"/>
<rect x="1115.57" y="631.21" width="3.17" height="5.39" fill="#0000f1"/>
<rect x="1115.57" y="625.82" width="3.17" height="5.39" fill="#0000f1"/>
<rect x="1115.57" y="620.43" width="3.17" height="5.39" fill="#0000f1"/>
<rect x="1115.57" y="615.04" width="3.17" height="5.39" fill="#0000f1"/>
<rect x="1115.57" y="604.27" width="3.17" height="5.39" fill="#0000f1"/>
<rect x="1115.57" y="598.88" width="3.17" height="5.39" fill="#0000f1"/>
<rect x="1115.57" y="582.71" width="3.17" height="5.39" fill="#00009a"/>
<rect x="1115.57" y="571.93" width="3.17" height="5.39" fill="#00009a"/>
<rect x="1115.57" y="539.60" width="3.17" height="5.39" fill="#00009a"/>
<rect x="1115.57" y="501.88" width="3.17" height="5.39" fill="#00009a"/>
<rect x="1115.57" y="469.54" width="3.17" height="5.39" fill="#00009a"/>
<rect x="1118.74" y="625.82" width="3.17" height="5.39" fill="#0000f1"/>
<rect x="1118.74" y="620.43" width="3.17" height="5.39" fill="#0000f1"/>
<rect x="1118.74" y="615.04" width="3.17" height="5.39" fill="#0000f1"/>
<rect x="1118.74" y="604.27" width="3.17" height="5.39" fill="#0000f1"/>
<rect x="1118.74" y="593.49" width="3.17" height="5.39" fill="#00009a"/>
<rect x="1118.74" y="588.10" width="3.17" height="5.39" fill="#00009a"/>
<rect x="1121.91" y="625.82" width="3.17" height="5.39" fill="#0000d4"/>
<rect x="1121.91" y="620.43" width="3.17" height="5.39" fill="#0000f1"/>
<rect x="1121.91" y="615.04" width="3.17" height="5.39" fill="#0000f1"/>
<rect x="1121.91" y="609.65" width="3.17" height="5.39" fill="#0000f1"/>
<rect x="1121.91" y="604.27" width="3.17" height="5.39" fill="#0000f1"/>
<rect x="1121.91" y="598.88" width="3.17" height="5.39" fill="#0000f1"/>
<rect x="1121.91" y="593.49" width="3.17" height="5.39" fill="#0000f1"/>
<rect x="1121.91" y="582.71" width="3.17" height="5.39" fill="#00009a"/>
<rect x="1121.91" y="577.32" width="3.17" height="5.39" fill="#00009a"/>
<rect x="1121.91" y="561.15" width="3.17" height="5.39" fill="#00009a"/>
<rect x="1125.08" y="620.43" width="3.17" height="5.39" fill="#0000f1"/>
<rect x="1125.08" y="609.65" width="3.17" height="5.39" fill="#00009a"/>
<rect x="1125.08" y="598.88" width="3.17" height="5.39" fill="#0000f1"/>
<rect x="1125.08" y="582.71" width="3.17" height="5.39" fill="#00009a"/>
<rect x="1125.08" y="566.54" width="3.17" height="5.39" fill="#00009a"/>
<rect x="1125.08" y="555.76" width="3.17" height="5.39" fill="#00009a"/>
<rect x="1125.08" y="544.99" width="3.17" height="5.39" fill="#00009a"/>
<rect x="1128.25" y="625.82" width="3.17" height="5.39" fill="#00009a"/>
<rect x="1128.25" y="620.43" width="3.17" height="5.39" fill="#00009a"/>
<rect x="1128.25" y="615.04" width="3.17" height="5.39" fill="#00009a"/>
<rect x="1128.25" y="604.27" width="3.17" height="5.39" fill="#00009a"/>
<rect x="1128.25" y="598.88" width="3.17" height="5.39" fill="#0000f1"/>
<rect x="1128.25" y="593.49" width="3.17" height="5.39" fill="#0000f1"/>
<rect x="1128.25" y="588.10" width="3.17" height="5.39" fill="#00009a"/>
<rect x="1128.25" y="566.54" width="3.17" height="5.39" fill="#00009a"/>
<rect x="1128.25" y="550.38" width="3.17" height="5.39" fill="#00009a"/>
<rect x="1128.25" y="539.60" width="3.17" height="5.39" fill="#00009a"/>
<rect x="1128.25" y="518.04" width="3.17" height="5.39" fill="#00009a"/>
<rect x="1131.42" y="625.82" width="3.17" height="5.39" fill="#00009a"/>
<rect x="1131.42" y="615.04" width="3.17" height="5.39" fill="#00009a"/>
<rect x="1131.42" y="609.65" width="3.17" height="5.39" fill="#00009a"/>
<rect x="1131.42" y="588.10" width="3.17" height="5.39" fill="#00009a"/>
<rect x="1131.42" y="582.71" width="3.17" height="5.39" fill="#00009a"/>
<rect x="1131.42" y="571.93" width="3.17" height="5.39" fill="#00009a"/>
<rect x="1131.42" y="555.76" width="3.17" height="5.39" fill="#00009a"/>
<rect x="1134.59" y="631.21" width="3.17" height="5.39" fill="#00009a"/>
<rect x="1134.59" y="615.04" width="3.17" height="5.39" fill="#00009a"/>
<rect x="1134.59" y="604.27" width="3.17" height="5.39" fill="#00009a"/>
<rect x="1134.59" y="598.88" width="3.17" height="5.39" fill="#00009a"/>
<rect x="1134.59" y="593.49" width="3.17" height="5.39" fill="#00009a"/>
<rect x="1134.59" y="582.71" width="3.17" height="5.39" fill="#00009a"/>
<rect x="1134.59" y="561.15" width="3.17" height="5.39" fill="#00009a"/>
<rect x="1137.76" y="620.43" width="3.17" height="5.39" fill="#00009a"/>
<rect x="1137.76" y="615.04" width="3.17" height="5.39" fill="#00009a"/>
<rect x="1137.76" y="598.88" width="3.17" height="5.39" fill="#00009a"/>
<rect x="1137.76" y="588.10" width="3.17" height="5.39" fill="#00009a"/>
<rect x="1137.76" y="555.76" width="3.17" height="5.39" fill="#00009a"/>
<rect x="1137.76" y="550.38" width="3.17" height="5.39" fill="#00009a"/>
<rect x="1137.76" y="501.88" width="3.17" height="5.39" fill="#00009a"/>
<rect x="1140.93" y="620.43" width="3.17" height="5.39" fill="#00009a"/>
<rect x="1140.93" y="593.49" width="3.17" height="5.39" fill="#00009a"/>
<rect x="1140.93" y="582.71" width="3.17" height="5.39" fill="#00009a"/>
<rect x="1140.93" y="577.32" width="3.17" height="5.39" fill="#00009a"/>
<rect x="1140.93" y="544.99" width="3.17" height="5.39" fill="#00009a"/>
<rect x="1140.93" y="518.04" width="3.17" height="5.39" fill="#00009a"/>
<rect x="1144.10" y="615.04" width="3.17" height="5.39" fill="#00009a"/>
<rect x="1144.10" y="598.88" width="3.17" height="5.39" fill="#00009a"/>
<rect x="1144.10" y="588.10" width="3.17" height="5.39" fill="#00009a"/>
<rect x="1144.10" y="571.93" width="3.17" height="5.39" fill="#00009a"/>
<rect x="1144.10" y="566.54" width="3.17" height="5.39" fill="#00009a"/>
<rect x="1144.10" y="388.71" width="3.17" height="5.39" fill="#00009a"/>
<rect x="1147.27" y="582.71" width="3.17" height="5.39" fill="#00009a"/>
<rect x="1147.27" y="555.76" width="3.17" height="5.39" fill="#00009a"/>
<rect x="1150.44" y="615.04" width="3.17" height="5.39" fill="#00009a"/>
<rect x="1150.44" y="588.10" width="3.17" height="5.39" fill="#00009a"/>
<rect x="1150.44" y="566.54" width="3.17" height="5.39" fill="#00009a"/>
<rect x="1150.44" y="561.15" width="3.17" height="5.39" fill="#00009a"/>
<rect x="1150.44" y="518.04" width="3.17" height="5.39" fill="#00009a"/>
<rect x="1153.61" y="609.65" width="3.17" height="5.39" fill="#00009a"/>
<rect x="1153.61" y="555.76" width="3.17" height="5.39" fill="#00009a"/>
<rect x="1156.78" y="577.32" width="3.17" height="5.39" fill="#00009a"/>
<rect x="1159.95" y="625.82" width="3.17" height="5.39" fill="#00009a"/>
<rect x="1159.95" y="577.32" width="3.17" height="5.39" fill="#00009a"/>
<rect x="1163.12" y="609.65" width="3.17" height="5.39" fill="#00009a"/>
<rect x="1178.97" y="598.88" width="3.17" height="5.39" fill="#00009a"/>
<rect x="1178.97" y="539.60" width="3.17" height="5.39" fill="#00009a"/>
<rect x="1194.82" y="566.54" width="3.17" height="5.39" fill="#00009a"/>
<rect x="1210.67" y="496.49" width="3.17" height="5.39" fill="#00009a"/>
<rect x="1217.01" y="539.60" width="3.17" height="5.39" fill="#00009a"/>
<rect x="1236.03" y="496.49" width="3.17" height="5.39" fill="#00009a"/>
</g>
<line x1="1080.5" y1="631.5" x2="1239.3" y2="515.4" stroke="#a01f33" stroke-width="1.3" clip-path="url(#clipF)"/>
<rect x="1073.3" y="373.2" width="353.4000000000001" height="264.09999999999997" fill="none" stroke="#262626" stroke-width="1.2"/>
<line x1="1073.30" y1="637.3" x2="1073.30" y2="641.3" stroke="#262626" stroke-width="1"/>
<line x1="1069.3" y1="637.30" x2="1073.3" y2="637.30" stroke="#262626" stroke-width="1"/>
<text transform="translate(1073.30,654.90) scale(1,1.12)" class="tk" text-anchor="middle" style="font-family:'Liberation Sans',Arial,sans-serif;font-size:13px" fill="#262626">0</text>
<text transform="translate(1064.70,642.50) scale(1,1.12)" class="tk" text-anchor="end" style="font-family:'Liberation Sans',Arial,sans-serif;font-size:13px" fill="#262626">0</text>
<line x1="1122.38" y1="637.3" x2="1122.38" y2="641.3" stroke="#262626" stroke-width="1"/>
<line x1="1069.3" y1="600.62" x2="1073.3" y2="600.62" stroke="#262626" stroke-width="1"/>
<text transform="translate(1122.38,654.90) scale(1,1.12)" class="tk" text-anchor="middle" style="font-family:'Liberation Sans',Arial,sans-serif;font-size:13px" fill="#262626">5</text>
<text transform="translate(1064.70,605.82) scale(1,1.12)" class="tk" text-anchor="end" style="font-family:'Liberation Sans',Arial,sans-serif;font-size:13px" fill="#262626">5</text>
<line x1="1171.47" y1="637.3" x2="1171.47" y2="641.3" stroke="#262626" stroke-width="1"/>
<line x1="1069.3" y1="563.94" x2="1073.3" y2="563.94" stroke="#262626" stroke-width="1"/>
<text transform="translate(1171.47,654.90) scale(1,1.12)" class="tk" text-anchor="middle" style="font-family:'Liberation Sans',Arial,sans-serif;font-size:13px" fill="#262626">10</text>
<text transform="translate(1064.70,569.14) scale(1,1.12)" class="tk" text-anchor="end" style="font-family:'Liberation Sans',Arial,sans-serif;font-size:13px" fill="#262626">10</text>
<line x1="1220.55" y1="637.3" x2="1220.55" y2="641.3" stroke="#262626" stroke-width="1"/>
<line x1="1069.3" y1="527.26" x2="1073.3" y2="527.26" stroke="#262626" stroke-width="1"/>
<text transform="translate(1220.55,654.90) scale(1,1.12)" class="tk" text-anchor="middle" style="font-family:'Liberation Sans',Arial,sans-serif;font-size:13px" fill="#262626">15</text>
<text transform="translate(1064.70,532.46) scale(1,1.12)" class="tk" text-anchor="end" style="font-family:'Liberation Sans',Arial,sans-serif;font-size:13px" fill="#262626">15</text>
<line x1="1269.63" y1="637.3" x2="1269.63" y2="641.3" stroke="#262626" stroke-width="1"/>
<line x1="1069.3" y1="490.58" x2="1073.3" y2="490.58" stroke="#262626" stroke-width="1"/>
<text transform="translate(1269.63,654.90) scale(1,1.12)" class="tk" text-anchor="middle" style="font-family:'Liberation Sans',Arial,sans-serif;font-size:13px" fill="#262626">20</text>
<text transform="translate(1064.70,495.78) scale(1,1.12)" class="tk" text-anchor="end" style="font-family:'Liberation Sans',Arial,sans-serif;font-size:13px" fill="#262626">20</text>
<line x1="1318.72" y1="637.3" x2="1318.72" y2="641.3" stroke="#262626" stroke-width="1"/>
<line x1="1069.3" y1="453.90" x2="1073.3" y2="453.90" stroke="#262626" stroke-width="1"/>
<text transform="translate(1318.72,654.90) scale(1,1.12)" class="tk" text-anchor="middle" style="font-family:'Liberation Sans',Arial,sans-serif;font-size:13px" fill="#262626">25</text>
<text transform="translate(1064.70,459.10) scale(1,1.12)" class="tk" text-anchor="end" style="font-family:'Liberation Sans',Arial,sans-serif;font-size:13px" fill="#262626">25</text>
<line x1="1367.80" y1="637.3" x2="1367.80" y2="641.3" stroke="#262626" stroke-width="1"/>
<line x1="1069.3" y1="417.22" x2="1073.3" y2="417.22" stroke="#262626" stroke-width="1"/>
<text transform="translate(1367.80,654.90) scale(1,1.12)" class="tk" text-anchor="middle" style="font-family:'Liberation Sans',Arial,sans-serif;font-size:13px" fill="#262626">30</text>
<text transform="translate(1064.70,422.42) scale(1,1.12)" class="tk" text-anchor="end" style="font-family:'Liberation Sans',Arial,sans-serif;font-size:13px" fill="#262626">30</text>
<line x1="1416.88" y1="637.3" x2="1416.88" y2="641.3" stroke="#262626" stroke-width="1"/>
<line x1="1069.3" y1="380.54" x2="1073.3" y2="380.54" stroke="#262626" stroke-width="1"/>
<text transform="translate(1416.88,654.90) scale(1,1.12)" class="tk" text-anchor="middle" style="font-family:'Liberation Sans',Arial,sans-serif;font-size:13px" fill="#262626">35</text>
<text transform="translate(1064.70,385.74) scale(1,1.12)" class="tk" text-anchor="end" style="font-family:'Liberation Sans',Arial,sans-serif;font-size:13px" fill="#262626">35</text>
<text x="1250.00" y="671.60" class="ax" text-anchor="middle" style="font-family:'WenQuanYi Zen Hei Mono','WenQuanYi Zen Hei','DejaVu Sans Mono',monospace;font-size:12px" fill="#262626" textLength="87.4" lengthAdjust="spacingAndGlyphs">observed DMS</text>
<text transform="translate(1044.10,505.25) rotate(-90)" x="0" y="0" class="ax" text-anchor="middle" style="font-family:'WenQuanYi Zen Hei Mono','WenQuanYi Zen Hei','DejaVu Sans Mono',monospace;font-size:12px" fill="#262626" textLength="57.6" lengthAdjust="spacingAndGlyphs">BPNN DMS</text>
<line x1="1325.60" y1="622.10" x2="1349.30" y2="622.10" stroke="#b83a48" stroke-width="1.3"/>
<text x="1354.00" y="625.70" class="ax" style="font-family:'WenQuanYi Zen Hei Mono','WenQuanYi Zen Hei','DejaVu Sans Mono',monospace;font-size:10.6px" fill="#262626" textLength="62" lengthAdjust="spacingAndGlyphs">Fitted Line</text>
<text transform="translate(1073.60,391.30) scale(1,1.0)" class="st" style="color:#b0262c;font-family:'DejaVu Serif',serif;font-size:11.8px;white-space:pre" xml:space="preserve" fill="#b0262c">r = 0.47</text>
<text transform="translate(1073.60,405.75) scale(1,1.0)" class="st" style="color:#111;font-family:'DejaVu Serif',serif;font-size:11.8px;white-space:pre" xml:space="preserve" fill="#111">MAE = 2.14 (rMAE = 57.53 %)</text>
<text transform="translate(1073.60,420.20) scale(1,1.0)" class="st" style="color:#111;font-family:'DejaVu Serif',serif;font-size:11.8px;white-space:pre" xml:space="preserve" fill="#111">Bias = 0.05 (rBias = 1.38%)</text>
<text transform="translate(1073.60,434.65) scale(1,1.0)" class="st" style="color:#111;font-family:'DejaVu Serif',serif;font-size:11.8px;white-space:pre" xml:space="preserve" fill="#111">RMSE = 3.68  (rRMSE = 98.96 %)</text>
<text transform="translate(1073.60,449.10) scale(1,1.0)" class="st" style="color:#111;font-family:'DejaVu Serif',serif;font-size:11.8px;white-space:pre" xml:space="preserve" fill="#111">N = 496</text>
<rect x="1448.80" y="373.2" width="15.7" height="264.09999999999997" fill="url(#jet)" stroke="#222" stroke-width="0.8"/>
<text x="1468.50" y="641.10" class="cb" style="font-family:'Liberation Sans',Arial,sans-serif;font-size:10.2px" fill="#262626">0</text>
<line x1="1448.80" y1="600.62" x2="1451.80" y2="600.62" stroke="#222" stroke-width="0.8" opacity="0.85"/>
<line x1="1461.50" y1="600.62" x2="1464.50" y2="600.62" stroke="#222" stroke-width="0.8" opacity="0.85"/>
<text x="1468.50" y="604.42" class="cb" style="font-family:'Liberation Sans',Arial,sans-serif;font-size:10.2px" fill="#262626">5</text>
<line x1="1448.80" y1="563.94" x2="1451.80" y2="563.94" stroke="#222" stroke-width="0.8" opacity="0.85"/>
<line x1="1461.50" y1="563.94" x2="1464.50" y2="563.94" stroke="#222" stroke-width="0.8" opacity="0.85"/>
<text x="1468.50" y="567.74" class="cb" style="font-family:'Liberation Sans',Arial,sans-serif;font-size:10.2px" fill="#262626">10</text>
<line x1="1448.80" y1="527.26" x2="1451.80" y2="527.26" stroke="#222" stroke-width="0.8" opacity="0.85"/>
<line x1="1461.50" y1="527.26" x2="1464.50" y2="527.26" stroke="#222" stroke-width="0.8" opacity="0.85"/>
<text x="1468.50" y="531.06" class="cb" style="font-family:'Liberation Sans',Arial,sans-serif;font-size:10.2px" fill="#262626">15</text>
<line x1="1448.80" y1="490.58" x2="1451.80" y2="490.58" stroke="#222" stroke-width="0.8" opacity="0.85"/>
<line x1="1461.50" y1="490.58" x2="1464.50" y2="490.58" stroke="#222" stroke-width="0.8" opacity="0.85"/>
<text x="1468.50" y="494.38" class="cb" style="font-family:'Liberation Sans',Arial,sans-serif;font-size:10.2px" fill="#262626">20</text>
<line x1="1448.80" y1="453.90" x2="1451.80" y2="453.90" stroke="#222" stroke-width="0.8" opacity="0.85"/>
<line x1="1461.50" y1="453.90" x2="1464.50" y2="453.90" stroke="#222" stroke-width="0.8" opacity="0.85"/>
<text x="1468.50" y="457.70" class="cb" style="font-family:'Liberation Sans',Arial,sans-serif;font-size:10.2px" fill="#262626">25</text>
<line x1="1448.80" y1="417.22" x2="1451.80" y2="417.22" stroke="#222" stroke-width="0.8" opacity="0.85"/>
<line x1="1461.50" y1="417.22" x2="1464.50" y2="417.22" stroke="#222" stroke-width="0.8" opacity="0.85"/>
<text x="1468.50" y="421.02" class="cb" style="font-family:'Liberation Sans',Arial,sans-serif;font-size:10.2px" fill="#262626">30</text>
<line x1="1448.80" y1="380.54" x2="1451.80" y2="380.54" stroke="#222" stroke-width="0.8" opacity="0.85"/>
<line x1="1461.50" y1="380.54" x2="1464.50" y2="380.54" stroke="#222" stroke-width="0.8" opacity="0.85"/>
<text x="1468.50" y="384.34" class="cb" style="font-family:'Liberation Sans',Arial,sans-serif;font-size:10.2px" fill="#262626">35</text>
<text transform="translate(1507.80,481.60) rotate(-90)" x="0" y="0" class="lb" text-anchor="middle" style="font-family:'DejaVu Sans',sans-serif;font-size:13.5px" fill="#111" textLength="102.3" lengthAdjust="spacingAndGlyphs">Scatter density</text>
<text x="1032.1" y="368" style="font-family:'Liberation Sans',Arial,sans-serif;font-weight:bold;font-size:29px" fill="#000">F</text>
</svg></body></html>
